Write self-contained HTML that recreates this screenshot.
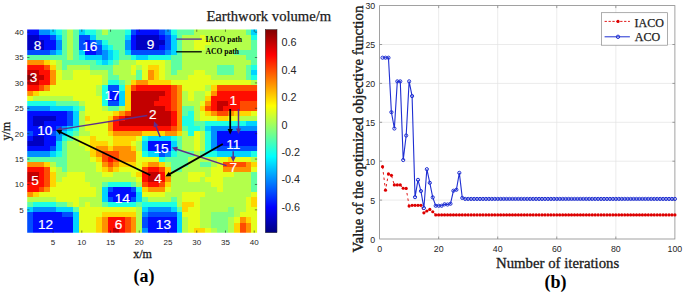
<!DOCTYPE html><html><head><meta charset="utf-8"><style>html,body{margin:0;padding:0;background:#fff;}svg{display:block}</style></head><body>
<svg width="685" height="293" viewBox="0 0 685 293">
<defs><linearGradient id="cb" x1="0" y1="1" x2="0" y2="0">
<stop offset="0.0000" stop-color="#000080"/>
<stop offset="0.0156" stop-color="#00008f"/>
<stop offset="0.0312" stop-color="#00009f"/>
<stop offset="0.0469" stop-color="#0000af"/>
<stop offset="0.0625" stop-color="#0000bf"/>
<stop offset="0.0781" stop-color="#0000cf"/>
<stop offset="0.0938" stop-color="#0000df"/>
<stop offset="0.1094" stop-color="#0000ef"/>
<stop offset="0.1250" stop-color="#0000ff"/>
<stop offset="0.1406" stop-color="#0010ff"/>
<stop offset="0.1562" stop-color="#0020ff"/>
<stop offset="0.1719" stop-color="#0030ff"/>
<stop offset="0.1875" stop-color="#0040ff"/>
<stop offset="0.2031" stop-color="#0050ff"/>
<stop offset="0.2188" stop-color="#0060ff"/>
<stop offset="0.2344" stop-color="#0070ff"/>
<stop offset="0.2500" stop-color="#0080ff"/>
<stop offset="0.2656" stop-color="#008fff"/>
<stop offset="0.2812" stop-color="#009fff"/>
<stop offset="0.2969" stop-color="#00afff"/>
<stop offset="0.3125" stop-color="#00bfff"/>
<stop offset="0.3281" stop-color="#00cfff"/>
<stop offset="0.3438" stop-color="#00dfff"/>
<stop offset="0.3594" stop-color="#00efff"/>
<stop offset="0.3750" stop-color="#00ffff"/>
<stop offset="0.3906" stop-color="#10ffef"/>
<stop offset="0.4062" stop-color="#20ffdf"/>
<stop offset="0.4219" stop-color="#30ffcf"/>
<stop offset="0.4375" stop-color="#40ffbf"/>
<stop offset="0.4531" stop-color="#50ffaf"/>
<stop offset="0.4688" stop-color="#60ff9f"/>
<stop offset="0.4844" stop-color="#70ff8f"/>
<stop offset="0.5000" stop-color="#80ff80"/>
<stop offset="0.5156" stop-color="#8fff70"/>
<stop offset="0.5312" stop-color="#9fff60"/>
<stop offset="0.5469" stop-color="#afff50"/>
<stop offset="0.5625" stop-color="#bfff40"/>
<stop offset="0.5781" stop-color="#cfff30"/>
<stop offset="0.5938" stop-color="#dfff20"/>
<stop offset="0.6094" stop-color="#efff10"/>
<stop offset="0.6250" stop-color="#ffff00"/>
<stop offset="0.6406" stop-color="#ffef00"/>
<stop offset="0.6562" stop-color="#ffdf00"/>
<stop offset="0.6719" stop-color="#ffcf00"/>
<stop offset="0.6875" stop-color="#ffbf00"/>
<stop offset="0.7031" stop-color="#ffaf00"/>
<stop offset="0.7188" stop-color="#ff9f00"/>
<stop offset="0.7344" stop-color="#ff8f00"/>
<stop offset="0.7500" stop-color="#ff8000"/>
<stop offset="0.7656" stop-color="#ff7000"/>
<stop offset="0.7812" stop-color="#ff6000"/>
<stop offset="0.7969" stop-color="#ff5000"/>
<stop offset="0.8125" stop-color="#ff4000"/>
<stop offset="0.8281" stop-color="#ff3000"/>
<stop offset="0.8438" stop-color="#ff2000"/>
<stop offset="0.8594" stop-color="#ff1000"/>
<stop offset="0.8750" stop-color="#ff0000"/>
<stop offset="0.8906" stop-color="#ef0000"/>
<stop offset="0.9062" stop-color="#df0000"/>
<stop offset="0.9219" stop-color="#cf0000"/>
<stop offset="0.9375" stop-color="#bf0000"/>
<stop offset="0.9531" stop-color="#af0000"/>
<stop offset="0.9688" stop-color="#9f0000"/>
<stop offset="0.9844" stop-color="#8f0000"/>
<stop offset="1.0000" stop-color="#800000"/>
</linearGradient></defs>
<clipPath id="hc"><rect x="27.20" y="29.60" width="229.90" height="203.10"/></clipPath>
<filter id="bl" x="-5%" y="-5%" width="110%" height="110%"><feGaussianBlur stdDeviation="0.65"/></filter>
<g clip-path="url(#hc)"><g filter="url(#bl)" shape-rendering="crispEdges">
<rect x="21.45" y="24.52" width="6.15" height="5.48" fill="#0008ff"/>
<rect x="27.20" y="24.52" width="6.15" height="5.48" fill="#0008ff"/>
<rect x="32.95" y="24.52" width="6.15" height="5.48" fill="#0008ff"/>
<rect x="38.70" y="24.52" width="6.15" height="5.48" fill="#0090ff"/>
<rect x="44.44" y="24.52" width="6.15" height="5.48" fill="#0090ff"/>
<rect x="50.19" y="24.52" width="6.15" height="5.48" fill="#00d4ff"/>
<rect x="55.94" y="24.52" width="6.15" height="5.48" fill="#1affe5"/>
<rect x="61.69" y="24.52" width="6.15" height="5.48" fill="#5effa2"/>
<rect x="67.43" y="24.52" width="6.15" height="5.48" fill="#b3ff4c"/>
<rect x="73.18" y="24.52" width="6.15" height="5.48" fill="#5effa2"/>
<rect x="78.93" y="24.52" width="6.15" height="5.48" fill="#00d4ff"/>
<rect x="84.68" y="24.52" width="6.15" height="5.48" fill="#1affe5"/>
<rect x="90.42" y="24.52" width="6.15" height="5.48" fill="#1affe5"/>
<rect x="96.17" y="24.52" width="6.15" height="5.48" fill="#5effa2"/>
<rect x="101.92" y="24.52" width="6.15" height="5.48" fill="#b3ff4c"/>
<rect x="107.67" y="24.52" width="6.15" height="5.48" fill="#5effa2"/>
<rect x="113.41" y="24.52" width="6.15" height="5.48" fill="#5effa2"/>
<rect x="119.16" y="24.52" width="6.15" height="5.48" fill="#5effa2"/>
<rect x="124.91" y="24.52" width="6.15" height="5.48" fill="#1affe5"/>
<rect x="130.66" y="24.52" width="6.15" height="5.48" fill="#004dff"/>
<rect x="136.40" y="24.52" width="6.15" height="5.48" fill="#0008ff"/>
<rect x="142.15" y="24.52" width="6.15" height="5.48" fill="#0008ff"/>
<rect x="147.90" y="24.52" width="6.15" height="5.48" fill="#0008ff"/>
<rect x="153.65" y="24.52" width="6.15" height="5.48" fill="#0008ff"/>
<rect x="159.39" y="24.52" width="6.15" height="5.48" fill="#004dff"/>
<rect x="165.14" y="24.52" width="6.15" height="5.48" fill="#0090ff"/>
<rect x="170.89" y="24.52" width="6.15" height="5.48" fill="#1affe5"/>
<rect x="176.63" y="24.52" width="6.15" height="5.48" fill="#5effa2"/>
<rect x="182.38" y="24.52" width="6.15" height="5.48" fill="#5effa2"/>
<rect x="188.13" y="24.52" width="6.15" height="5.48" fill="#5effa2"/>
<rect x="193.88" y="24.52" width="6.15" height="5.48" fill="#b3ff4c"/>
<rect x="199.62" y="24.52" width="6.15" height="5.48" fill="#b3ff4c"/>
<rect x="205.37" y="24.52" width="6.15" height="5.48" fill="#b3ff4c"/>
<rect x="211.12" y="24.52" width="6.15" height="5.48" fill="#b3ff4c"/>
<rect x="216.87" y="24.52" width="6.15" height="5.48" fill="#b3ff4c"/>
<rect x="222.62" y="24.52" width="6.15" height="5.48" fill="#b3ff4c"/>
<rect x="228.36" y="24.52" width="6.15" height="5.48" fill="#b3ff4c"/>
<rect x="234.11" y="24.52" width="6.15" height="5.48" fill="#b3ff4c"/>
<rect x="239.86" y="24.52" width="6.15" height="5.48" fill="#b3ff4c"/>
<rect x="245.61" y="24.52" width="6.15" height="5.48" fill="#5effa2"/>
<rect x="251.35" y="24.52" width="6.15" height="5.48" fill="#00d4ff"/>
<rect x="257.10" y="24.52" width="6.15" height="5.48" fill="#00d4ff"/>
<rect x="21.45" y="29.60" width="6.15" height="5.48" fill="#0008ff"/>
<rect x="27.20" y="29.60" width="6.15" height="5.48" fill="#0008ff"/>
<rect x="32.95" y="29.60" width="6.15" height="5.48" fill="#0008ff"/>
<rect x="38.70" y="29.60" width="6.15" height="5.48" fill="#0090ff"/>
<rect x="44.44" y="29.60" width="6.15" height="5.48" fill="#0090ff"/>
<rect x="50.19" y="29.60" width="6.15" height="5.48" fill="#00d4ff"/>
<rect x="55.94" y="29.60" width="6.15" height="5.48" fill="#1affe5"/>
<rect x="61.69" y="29.60" width="6.15" height="5.48" fill="#5effa2"/>
<rect x="67.43" y="29.60" width="6.15" height="5.48" fill="#b3ff4c"/>
<rect x="73.18" y="29.60" width="6.15" height="5.48" fill="#5effa2"/>
<rect x="78.93" y="29.60" width="6.15" height="5.48" fill="#00d4ff"/>
<rect x="84.68" y="29.60" width="6.15" height="5.48" fill="#1affe5"/>
<rect x="90.42" y="29.60" width="6.15" height="5.48" fill="#1affe5"/>
<rect x="96.17" y="29.60" width="6.15" height="5.48" fill="#5effa2"/>
<rect x="101.92" y="29.60" width="6.15" height="5.48" fill="#b3ff4c"/>
<rect x="107.67" y="29.60" width="6.15" height="5.48" fill="#5effa2"/>
<rect x="113.41" y="29.60" width="6.15" height="5.48" fill="#5effa2"/>
<rect x="119.16" y="29.60" width="6.15" height="5.48" fill="#5effa2"/>
<rect x="124.91" y="29.60" width="6.15" height="5.48" fill="#1affe5"/>
<rect x="130.66" y="29.60" width="6.15" height="5.48" fill="#004dff"/>
<rect x="136.40" y="29.60" width="6.15" height="5.48" fill="#0008ff"/>
<rect x="142.15" y="29.60" width="6.15" height="5.48" fill="#0008ff"/>
<rect x="147.90" y="29.60" width="6.15" height="5.48" fill="#0008ff"/>
<rect x="153.65" y="29.60" width="6.15" height="5.48" fill="#0008ff"/>
<rect x="159.39" y="29.60" width="6.15" height="5.48" fill="#004dff"/>
<rect x="165.14" y="29.60" width="6.15" height="5.48" fill="#0090ff"/>
<rect x="170.89" y="29.60" width="6.15" height="5.48" fill="#1affe5"/>
<rect x="176.63" y="29.60" width="6.15" height="5.48" fill="#5effa2"/>
<rect x="182.38" y="29.60" width="6.15" height="5.48" fill="#5effa2"/>
<rect x="188.13" y="29.60" width="6.15" height="5.48" fill="#5effa2"/>
<rect x="193.88" y="29.60" width="6.15" height="5.48" fill="#b3ff4c"/>
<rect x="199.62" y="29.60" width="6.15" height="5.48" fill="#b3ff4c"/>
<rect x="205.37" y="29.60" width="6.15" height="5.48" fill="#b3ff4c"/>
<rect x="211.12" y="29.60" width="6.15" height="5.48" fill="#b3ff4c"/>
<rect x="216.87" y="29.60" width="6.15" height="5.48" fill="#b3ff4c"/>
<rect x="222.62" y="29.60" width="6.15" height="5.48" fill="#b3ff4c"/>
<rect x="228.36" y="29.60" width="6.15" height="5.48" fill="#b3ff4c"/>
<rect x="234.11" y="29.60" width="6.15" height="5.48" fill="#b3ff4c"/>
<rect x="239.86" y="29.60" width="6.15" height="5.48" fill="#b3ff4c"/>
<rect x="245.61" y="29.60" width="6.15" height="5.48" fill="#5effa2"/>
<rect x="251.35" y="29.60" width="6.15" height="5.48" fill="#00d4ff"/>
<rect x="257.10" y="29.60" width="6.15" height="5.48" fill="#00d4ff"/>
<rect x="21.45" y="34.68" width="6.15" height="5.48" fill="#0000c3"/>
<rect x="27.20" y="34.68" width="6.15" height="5.48" fill="#0000c3"/>
<rect x="32.95" y="34.68" width="6.15" height="5.48" fill="#0000c3"/>
<rect x="38.70" y="34.68" width="6.15" height="5.48" fill="#0008ff"/>
<rect x="44.44" y="34.68" width="6.15" height="5.48" fill="#0008ff"/>
<rect x="50.19" y="34.68" width="6.15" height="5.48" fill="#004dff"/>
<rect x="55.94" y="34.68" width="6.15" height="5.48" fill="#00d4ff"/>
<rect x="61.69" y="34.68" width="6.15" height="5.48" fill="#5effa2"/>
<rect x="67.43" y="34.68" width="6.15" height="5.48" fill="#b3ff4c"/>
<rect x="73.18" y="34.68" width="6.15" height="5.48" fill="#5effa2"/>
<rect x="78.93" y="34.68" width="6.15" height="5.48" fill="#004dff"/>
<rect x="84.68" y="34.68" width="6.15" height="5.48" fill="#004dff"/>
<rect x="90.42" y="34.68" width="6.15" height="5.48" fill="#00d4ff"/>
<rect x="96.17" y="34.68" width="6.15" height="5.48" fill="#5effa2"/>
<rect x="101.92" y="34.68" width="6.15" height="5.48" fill="#5effa2"/>
<rect x="107.67" y="34.68" width="6.15" height="5.48" fill="#5effa2"/>
<rect x="113.41" y="34.68" width="6.15" height="5.48" fill="#5effa2"/>
<rect x="119.16" y="34.68" width="6.15" height="5.48" fill="#5effa2"/>
<rect x="124.91" y="34.68" width="6.15" height="5.48" fill="#00d4ff"/>
<rect x="130.66" y="34.68" width="6.15" height="5.48" fill="#0008ff"/>
<rect x="136.40" y="34.68" width="6.15" height="5.48" fill="#0000c3"/>
<rect x="142.15" y="34.68" width="6.15" height="5.48" fill="#0000c3"/>
<rect x="147.90" y="34.68" width="6.15" height="5.48" fill="#0000c3"/>
<rect x="153.65" y="34.68" width="6.15" height="5.48" fill="#0000c3"/>
<rect x="159.39" y="34.68" width="6.15" height="5.48" fill="#0008ff"/>
<rect x="165.14" y="34.68" width="6.15" height="5.48" fill="#004dff"/>
<rect x="170.89" y="34.68" width="6.15" height="5.48" fill="#00d4ff"/>
<rect x="176.63" y="34.68" width="6.15" height="5.48" fill="#5effa2"/>
<rect x="182.38" y="34.68" width="6.15" height="5.48" fill="#b3ff4c"/>
<rect x="188.13" y="34.68" width="6.15" height="5.48" fill="#b3ff4c"/>
<rect x="193.88" y="34.68" width="6.15" height="5.48" fill="#b3ff4c"/>
<rect x="199.62" y="34.68" width="6.15" height="5.48" fill="#e5ff1a"/>
<rect x="205.37" y="34.68" width="6.15" height="5.48" fill="#b3ff4c"/>
<rect x="211.12" y="34.68" width="6.15" height="5.48" fill="#b3ff4c"/>
<rect x="216.87" y="34.68" width="6.15" height="5.48" fill="#b3ff4c"/>
<rect x="222.62" y="34.68" width="6.15" height="5.48" fill="#b3ff4c"/>
<rect x="228.36" y="34.68" width="6.15" height="5.48" fill="#b3ff4c"/>
<rect x="234.11" y="34.68" width="6.15" height="5.48" fill="#b3ff4c"/>
<rect x="239.86" y="34.68" width="6.15" height="5.48" fill="#b3ff4c"/>
<rect x="245.61" y="34.68" width="6.15" height="5.48" fill="#b3ff4c"/>
<rect x="251.35" y="34.68" width="6.15" height="5.48" fill="#1affe5"/>
<rect x="257.10" y="34.68" width="6.15" height="5.48" fill="#1affe5"/>
<rect x="21.45" y="39.76" width="6.15" height="5.48" fill="#0000c3"/>
<rect x="27.20" y="39.76" width="6.15" height="5.48" fill="#0000c3"/>
<rect x="32.95" y="39.76" width="6.15" height="5.48" fill="#0000c3"/>
<rect x="38.70" y="39.76" width="6.15" height="5.48" fill="#0000c3"/>
<rect x="44.44" y="39.76" width="6.15" height="5.48" fill="#0008ff"/>
<rect x="50.19" y="39.76" width="6.15" height="5.48" fill="#0008ff"/>
<rect x="55.94" y="39.76" width="6.15" height="5.48" fill="#0090ff"/>
<rect x="61.69" y="39.76" width="6.15" height="5.48" fill="#5effa2"/>
<rect x="67.43" y="39.76" width="6.15" height="5.48" fill="#b3ff4c"/>
<rect x="73.18" y="39.76" width="6.15" height="5.48" fill="#5effa2"/>
<rect x="78.93" y="39.76" width="6.15" height="5.48" fill="#004dff"/>
<rect x="84.68" y="39.76" width="6.15" height="5.48" fill="#0008ff"/>
<rect x="90.42" y="39.76" width="6.15" height="5.48" fill="#004dff"/>
<rect x="96.17" y="39.76" width="6.15" height="5.48" fill="#0090ff"/>
<rect x="101.92" y="39.76" width="6.15" height="5.48" fill="#1affe5"/>
<rect x="107.67" y="39.76" width="6.15" height="5.48" fill="#5effa2"/>
<rect x="113.41" y="39.76" width="6.15" height="5.48" fill="#5effa2"/>
<rect x="119.16" y="39.76" width="6.15" height="5.48" fill="#5effa2"/>
<rect x="124.91" y="39.76" width="6.15" height="5.48" fill="#0090ff"/>
<rect x="130.66" y="39.76" width="6.15" height="5.48" fill="#0008ff"/>
<rect x="136.40" y="39.76" width="6.15" height="5.48" fill="#0000c3"/>
<rect x="142.15" y="39.76" width="6.15" height="5.48" fill="#0000c3"/>
<rect x="147.90" y="39.76" width="6.15" height="5.48" fill="#0000c3"/>
<rect x="153.65" y="39.76" width="6.15" height="5.48" fill="#0000c3"/>
<rect x="159.39" y="39.76" width="6.15" height="5.48" fill="#0000c3"/>
<rect x="165.14" y="39.76" width="6.15" height="5.48" fill="#004dff"/>
<rect x="170.89" y="39.76" width="6.15" height="5.48" fill="#00d4ff"/>
<rect x="176.63" y="39.76" width="6.15" height="5.48" fill="#5effa2"/>
<rect x="182.38" y="39.76" width="6.15" height="5.48" fill="#b3ff4c"/>
<rect x="188.13" y="39.76" width="6.15" height="5.48" fill="#b3ff4c"/>
<rect x="193.88" y="39.76" width="6.15" height="5.48" fill="#e5ff1a"/>
<rect x="199.62" y="39.76" width="6.15" height="5.48" fill="#e5ff1a"/>
<rect x="205.37" y="39.76" width="6.15" height="5.48" fill="#e5ff1a"/>
<rect x="211.12" y="39.76" width="6.15" height="5.48" fill="#b3ff4c"/>
<rect x="216.87" y="39.76" width="6.15" height="5.48" fill="#b3ff4c"/>
<rect x="222.62" y="39.76" width="6.15" height="5.48" fill="#b3ff4c"/>
<rect x="228.36" y="39.76" width="6.15" height="5.48" fill="#b3ff4c"/>
<rect x="234.11" y="39.76" width="6.15" height="5.48" fill="#b3ff4c"/>
<rect x="239.86" y="39.76" width="6.15" height="5.48" fill="#b3ff4c"/>
<rect x="245.61" y="39.76" width="6.15" height="5.48" fill="#b3ff4c"/>
<rect x="251.35" y="39.76" width="6.15" height="5.48" fill="#5effa2"/>
<rect x="257.10" y="39.76" width="6.15" height="5.48" fill="#5effa2"/>
<rect x="21.45" y="44.83" width="6.15" height="5.48" fill="#0000c3"/>
<rect x="27.20" y="44.83" width="6.15" height="5.48" fill="#0000c3"/>
<rect x="32.95" y="44.83" width="6.15" height="5.48" fill="#0000c3"/>
<rect x="38.70" y="44.83" width="6.15" height="5.48" fill="#0000c3"/>
<rect x="44.44" y="44.83" width="6.15" height="5.48" fill="#0008ff"/>
<rect x="50.19" y="44.83" width="6.15" height="5.48" fill="#0008ff"/>
<rect x="55.94" y="44.83" width="6.15" height="5.48" fill="#0090ff"/>
<rect x="61.69" y="44.83" width="6.15" height="5.48" fill="#5effa2"/>
<rect x="67.43" y="44.83" width="6.15" height="5.48" fill="#b3ff4c"/>
<rect x="73.18" y="44.83" width="6.15" height="5.48" fill="#5effa2"/>
<rect x="78.93" y="44.83" width="6.15" height="5.48" fill="#004dff"/>
<rect x="84.68" y="44.83" width="6.15" height="5.48" fill="#0008ff"/>
<rect x="90.42" y="44.83" width="6.15" height="5.48" fill="#0008ff"/>
<rect x="96.17" y="44.83" width="6.15" height="5.48" fill="#004dff"/>
<rect x="101.92" y="44.83" width="6.15" height="5.48" fill="#00d4ff"/>
<rect x="107.67" y="44.83" width="6.15" height="5.48" fill="#1affe5"/>
<rect x="113.41" y="44.83" width="6.15" height="5.48" fill="#5effa2"/>
<rect x="119.16" y="44.83" width="6.15" height="5.48" fill="#5effa2"/>
<rect x="124.91" y="44.83" width="6.15" height="5.48" fill="#0090ff"/>
<rect x="130.66" y="44.83" width="6.15" height="5.48" fill="#0008ff"/>
<rect x="136.40" y="44.83" width="6.15" height="5.48" fill="#0000c3"/>
<rect x="142.15" y="44.83" width="6.15" height="5.48" fill="#0000c3"/>
<rect x="147.90" y="44.83" width="6.15" height="5.48" fill="#0000c3"/>
<rect x="153.65" y="44.83" width="6.15" height="5.48" fill="#0000c3"/>
<rect x="159.39" y="44.83" width="6.15" height="5.48" fill="#0008ff"/>
<rect x="165.14" y="44.83" width="6.15" height="5.48" fill="#004dff"/>
<rect x="170.89" y="44.83" width="6.15" height="5.48" fill="#00d4ff"/>
<rect x="176.63" y="44.83" width="6.15" height="5.48" fill="#5effa2"/>
<rect x="182.38" y="44.83" width="6.15" height="5.48" fill="#b3ff4c"/>
<rect x="188.13" y="44.83" width="6.15" height="5.48" fill="#b3ff4c"/>
<rect x="193.88" y="44.83" width="6.15" height="5.48" fill="#e5ff1a"/>
<rect x="199.62" y="44.83" width="6.15" height="5.48" fill="#e5ff1a"/>
<rect x="205.37" y="44.83" width="6.15" height="5.48" fill="#b3ff4c"/>
<rect x="211.12" y="44.83" width="6.15" height="5.48" fill="#b3ff4c"/>
<rect x="216.87" y="44.83" width="6.15" height="5.48" fill="#b3ff4c"/>
<rect x="222.62" y="44.83" width="6.15" height="5.48" fill="#b3ff4c"/>
<rect x="228.36" y="44.83" width="6.15" height="5.48" fill="#b3ff4c"/>
<rect x="234.11" y="44.83" width="6.15" height="5.48" fill="#b3ff4c"/>
<rect x="239.86" y="44.83" width="6.15" height="5.48" fill="#b3ff4c"/>
<rect x="245.61" y="44.83" width="6.15" height="5.48" fill="#b3ff4c"/>
<rect x="251.35" y="44.83" width="6.15" height="5.48" fill="#5effa2"/>
<rect x="257.10" y="44.83" width="6.15" height="5.48" fill="#5effa2"/>
<rect x="21.45" y="49.91" width="6.15" height="5.48" fill="#004dff"/>
<rect x="27.20" y="49.91" width="6.15" height="5.48" fill="#004dff"/>
<rect x="32.95" y="49.91" width="6.15" height="5.48" fill="#004dff"/>
<rect x="38.70" y="49.91" width="6.15" height="5.48" fill="#004dff"/>
<rect x="44.44" y="49.91" width="6.15" height="5.48" fill="#004dff"/>
<rect x="50.19" y="49.91" width="6.15" height="5.48" fill="#0090ff"/>
<rect x="55.94" y="49.91" width="6.15" height="5.48" fill="#00d4ff"/>
<rect x="61.69" y="49.91" width="6.15" height="5.48" fill="#5effa2"/>
<rect x="67.43" y="49.91" width="6.15" height="5.48" fill="#b3ff4c"/>
<rect x="73.18" y="49.91" width="6.15" height="5.48" fill="#5effa2"/>
<rect x="78.93" y="49.91" width="6.15" height="5.48" fill="#00d4ff"/>
<rect x="84.68" y="49.91" width="6.15" height="5.48" fill="#0008ff"/>
<rect x="90.42" y="49.91" width="6.15" height="5.48" fill="#0008ff"/>
<rect x="96.17" y="49.91" width="6.15" height="5.48" fill="#004dff"/>
<rect x="101.92" y="49.91" width="6.15" height="5.48" fill="#0090ff"/>
<rect x="107.67" y="49.91" width="6.15" height="5.48" fill="#00d4ff"/>
<rect x="113.41" y="49.91" width="6.15" height="5.48" fill="#1affe5"/>
<rect x="119.16" y="49.91" width="6.15" height="5.48" fill="#5effa2"/>
<rect x="124.91" y="49.91" width="6.15" height="5.48" fill="#00d4ff"/>
<rect x="130.66" y="49.91" width="6.15" height="5.48" fill="#004dff"/>
<rect x="136.40" y="49.91" width="6.15" height="5.48" fill="#004dff"/>
<rect x="142.15" y="49.91" width="6.15" height="5.48" fill="#004dff"/>
<rect x="147.90" y="49.91" width="6.15" height="5.48" fill="#004dff"/>
<rect x="153.65" y="49.91" width="6.15" height="5.48" fill="#004dff"/>
<rect x="159.39" y="49.91" width="6.15" height="5.48" fill="#004dff"/>
<rect x="165.14" y="49.91" width="6.15" height="5.48" fill="#0090ff"/>
<rect x="170.89" y="49.91" width="6.15" height="5.48" fill="#00d4ff"/>
<rect x="176.63" y="49.91" width="6.15" height="5.48" fill="#5effa2"/>
<rect x="182.38" y="49.91" width="6.15" height="5.48" fill="#b3ff4c"/>
<rect x="188.13" y="49.91" width="6.15" height="5.48" fill="#b3ff4c"/>
<rect x="193.88" y="49.91" width="6.15" height="5.48" fill="#b3ff4c"/>
<rect x="199.62" y="49.91" width="6.15" height="5.48" fill="#b3ff4c"/>
<rect x="205.37" y="49.91" width="6.15" height="5.48" fill="#b3ff4c"/>
<rect x="211.12" y="49.91" width="6.15" height="5.48" fill="#b3ff4c"/>
<rect x="216.87" y="49.91" width="6.15" height="5.48" fill="#b3ff4c"/>
<rect x="222.62" y="49.91" width="6.15" height="5.48" fill="#b3ff4c"/>
<rect x="228.36" y="49.91" width="6.15" height="5.48" fill="#b3ff4c"/>
<rect x="234.11" y="49.91" width="6.15" height="5.48" fill="#5effa2"/>
<rect x="239.86" y="49.91" width="6.15" height="5.48" fill="#5effa2"/>
<rect x="245.61" y="49.91" width="6.15" height="5.48" fill="#5effa2"/>
<rect x="251.35" y="49.91" width="6.15" height="5.48" fill="#5effa2"/>
<rect x="257.10" y="49.91" width="6.15" height="5.48" fill="#5effa2"/>
<rect x="21.45" y="54.99" width="6.15" height="5.48" fill="#5effa2"/>
<rect x="27.20" y="54.99" width="6.15" height="5.48" fill="#5effa2"/>
<rect x="32.95" y="54.99" width="6.15" height="5.48" fill="#5effa2"/>
<rect x="38.70" y="54.99" width="6.15" height="5.48" fill="#5effa2"/>
<rect x="44.44" y="54.99" width="6.15" height="5.48" fill="#5effa2"/>
<rect x="50.19" y="54.99" width="6.15" height="5.48" fill="#5effa2"/>
<rect x="55.94" y="54.99" width="6.15" height="5.48" fill="#5effa2"/>
<rect x="61.69" y="54.99" width="6.15" height="5.48" fill="#5effa2"/>
<rect x="67.43" y="54.99" width="6.15" height="5.48" fill="#b3ff4c"/>
<rect x="73.18" y="54.99" width="6.15" height="5.48" fill="#5effa2"/>
<rect x="78.93" y="54.99" width="6.15" height="5.48" fill="#1affe5"/>
<rect x="84.68" y="54.99" width="6.15" height="5.48" fill="#00d4ff"/>
<rect x="90.42" y="54.99" width="6.15" height="5.48" fill="#00d4ff"/>
<rect x="96.17" y="54.99" width="6.15" height="5.48" fill="#00d4ff"/>
<rect x="101.92" y="54.99" width="6.15" height="5.48" fill="#0090ff"/>
<rect x="107.67" y="54.99" width="6.15" height="5.48" fill="#00d4ff"/>
<rect x="113.41" y="54.99" width="6.15" height="5.48" fill="#1affe5"/>
<rect x="119.16" y="54.99" width="6.15" height="5.48" fill="#5effa2"/>
<rect x="124.91" y="54.99" width="6.15" height="5.48" fill="#5effa2"/>
<rect x="130.66" y="54.99" width="6.15" height="5.48" fill="#1affe5"/>
<rect x="136.40" y="54.99" width="6.15" height="5.48" fill="#00d4ff"/>
<rect x="142.15" y="54.99" width="6.15" height="5.48" fill="#00d4ff"/>
<rect x="147.90" y="54.99" width="6.15" height="5.48" fill="#1affe5"/>
<rect x="153.65" y="54.99" width="6.15" height="5.48" fill="#1affe5"/>
<rect x="159.39" y="54.99" width="6.15" height="5.48" fill="#1affe5"/>
<rect x="165.14" y="54.99" width="6.15" height="5.48" fill="#1affe5"/>
<rect x="170.89" y="54.99" width="6.15" height="5.48" fill="#5effa2"/>
<rect x="176.63" y="54.99" width="6.15" height="5.48" fill="#5effa2"/>
<rect x="182.38" y="54.99" width="6.15" height="5.48" fill="#b3ff4c"/>
<rect x="188.13" y="54.99" width="6.15" height="5.48" fill="#b3ff4c"/>
<rect x="193.88" y="54.99" width="6.15" height="5.48" fill="#b3ff4c"/>
<rect x="199.62" y="54.99" width="6.15" height="5.48" fill="#b3ff4c"/>
<rect x="205.37" y="54.99" width="6.15" height="5.48" fill="#b3ff4c"/>
<rect x="211.12" y="54.99" width="6.15" height="5.48" fill="#b3ff4c"/>
<rect x="216.87" y="54.99" width="6.15" height="5.48" fill="#b3ff4c"/>
<rect x="222.62" y="54.99" width="6.15" height="5.48" fill="#b3ff4c"/>
<rect x="228.36" y="54.99" width="6.15" height="5.48" fill="#b3ff4c"/>
<rect x="234.11" y="54.99" width="6.15" height="5.48" fill="#b3ff4c"/>
<rect x="239.86" y="54.99" width="6.15" height="5.48" fill="#b3ff4c"/>
<rect x="245.61" y="54.99" width="6.15" height="5.48" fill="#5effa2"/>
<rect x="251.35" y="54.99" width="6.15" height="5.48" fill="#5effa2"/>
<rect x="257.10" y="54.99" width="6.15" height="5.48" fill="#5effa2"/>
<rect x="21.45" y="60.06" width="6.15" height="5.48" fill="#ff9100"/>
<rect x="27.20" y="60.06" width="6.15" height="5.48" fill="#ff9100"/>
<rect x="32.95" y="60.06" width="6.15" height="5.48" fill="#ff9100"/>
<rect x="38.70" y="60.06" width="6.15" height="5.48" fill="#ff9100"/>
<rect x="44.44" y="60.06" width="6.15" height="5.48" fill="#ffd500"/>
<rect x="50.19" y="60.06" width="6.15" height="5.48" fill="#e5ff1a"/>
<rect x="55.94" y="60.06" width="6.15" height="5.48" fill="#b3ff4c"/>
<rect x="61.69" y="60.06" width="6.15" height="5.48" fill="#5effa2"/>
<rect x="67.43" y="60.06" width="6.15" height="5.48" fill="#5effa2"/>
<rect x="73.18" y="60.06" width="6.15" height="5.48" fill="#5effa2"/>
<rect x="78.93" y="60.06" width="6.15" height="5.48" fill="#5effa2"/>
<rect x="84.68" y="60.06" width="6.15" height="5.48" fill="#5effa2"/>
<rect x="90.42" y="60.06" width="6.15" height="5.48" fill="#5effa2"/>
<rect x="96.17" y="60.06" width="6.15" height="5.48" fill="#1affe5"/>
<rect x="101.92" y="60.06" width="6.15" height="5.48" fill="#00d4ff"/>
<rect x="107.67" y="60.06" width="6.15" height="5.48" fill="#1affe5"/>
<rect x="113.41" y="60.06" width="6.15" height="5.48" fill="#5effa2"/>
<rect x="119.16" y="60.06" width="6.15" height="5.48" fill="#b3ff4c"/>
<rect x="124.91" y="60.06" width="6.15" height="5.48" fill="#b3ff4c"/>
<rect x="130.66" y="60.06" width="6.15" height="5.48" fill="#b3ff4c"/>
<rect x="136.40" y="60.06" width="6.15" height="5.48" fill="#e5ff1a"/>
<rect x="142.15" y="60.06" width="6.15" height="5.48" fill="#e5ff1a"/>
<rect x="147.90" y="60.06" width="6.15" height="5.48" fill="#e5ff1a"/>
<rect x="153.65" y="60.06" width="6.15" height="5.48" fill="#e5ff1a"/>
<rect x="159.39" y="60.06" width="6.15" height="5.48" fill="#e5ff1a"/>
<rect x="165.14" y="60.06" width="6.15" height="5.48" fill="#b3ff4c"/>
<rect x="170.89" y="60.06" width="6.15" height="5.48" fill="#5effa2"/>
<rect x="176.63" y="60.06" width="6.15" height="5.48" fill="#5effa2"/>
<rect x="182.38" y="60.06" width="6.15" height="5.48" fill="#b3ff4c"/>
<rect x="188.13" y="60.06" width="6.15" height="5.48" fill="#b3ff4c"/>
<rect x="193.88" y="60.06" width="6.15" height="5.48" fill="#b3ff4c"/>
<rect x="199.62" y="60.06" width="6.15" height="5.48" fill="#b3ff4c"/>
<rect x="205.37" y="60.06" width="6.15" height="5.48" fill="#b3ff4c"/>
<rect x="211.12" y="60.06" width="6.15" height="5.48" fill="#b3ff4c"/>
<rect x="216.87" y="60.06" width="6.15" height="5.48" fill="#b3ff4c"/>
<rect x="222.62" y="60.06" width="6.15" height="5.48" fill="#b3ff4c"/>
<rect x="228.36" y="60.06" width="6.15" height="5.48" fill="#b3ff4c"/>
<rect x="234.11" y="60.06" width="6.15" height="5.48" fill="#b3ff4c"/>
<rect x="239.86" y="60.06" width="6.15" height="5.48" fill="#b3ff4c"/>
<rect x="245.61" y="60.06" width="6.15" height="5.48" fill="#b3ff4c"/>
<rect x="251.35" y="60.06" width="6.15" height="5.48" fill="#5effa2"/>
<rect x="257.10" y="60.06" width="6.15" height="5.48" fill="#5effa2"/>
<rect x="21.45" y="65.14" width="6.15" height="5.48" fill="#ff0800"/>
<rect x="27.20" y="65.14" width="6.15" height="5.48" fill="#ff0800"/>
<rect x="32.95" y="65.14" width="6.15" height="5.48" fill="#ff0800"/>
<rect x="38.70" y="65.14" width="6.15" height="5.48" fill="#ff0800"/>
<rect x="44.44" y="65.14" width="6.15" height="5.48" fill="#ff4c00"/>
<rect x="50.19" y="65.14" width="6.15" height="5.48" fill="#ffd500"/>
<rect x="55.94" y="65.14" width="6.15" height="5.48" fill="#b3ff4c"/>
<rect x="61.69" y="65.14" width="6.15" height="5.48" fill="#5effa2"/>
<rect x="67.43" y="65.14" width="6.15" height="5.48" fill="#b3ff4c"/>
<rect x="73.18" y="65.14" width="6.15" height="5.48" fill="#b3ff4c"/>
<rect x="78.93" y="65.14" width="6.15" height="5.48" fill="#b3ff4c"/>
<rect x="84.68" y="65.14" width="6.15" height="5.48" fill="#b3ff4c"/>
<rect x="90.42" y="65.14" width="6.15" height="5.48" fill="#5effa2"/>
<rect x="96.17" y="65.14" width="6.15" height="5.48" fill="#5effa2"/>
<rect x="101.92" y="65.14" width="6.15" height="5.48" fill="#5effa2"/>
<rect x="107.67" y="65.14" width="6.15" height="5.48" fill="#5effa2"/>
<rect x="113.41" y="65.14" width="6.15" height="5.48" fill="#b3ff4c"/>
<rect x="119.16" y="65.14" width="6.15" height="5.48" fill="#b3ff4c"/>
<rect x="124.91" y="65.14" width="6.15" height="5.48" fill="#b3ff4c"/>
<rect x="130.66" y="65.14" width="6.15" height="5.48" fill="#e5ff1a"/>
<rect x="136.40" y="65.14" width="6.15" height="5.48" fill="#b3ff4c"/>
<rect x="142.15" y="65.14" width="6.15" height="5.48" fill="#e5ff1a"/>
<rect x="147.90" y="65.14" width="6.15" height="5.48" fill="#ffd500"/>
<rect x="153.65" y="65.14" width="6.15" height="5.48" fill="#ffd500"/>
<rect x="159.39" y="65.14" width="6.15" height="5.48" fill="#e5ff1a"/>
<rect x="165.14" y="65.14" width="6.15" height="5.48" fill="#b3ff4c"/>
<rect x="170.89" y="65.14" width="6.15" height="5.48" fill="#5effa2"/>
<rect x="176.63" y="65.14" width="6.15" height="5.48" fill="#5effa2"/>
<rect x="182.38" y="65.14" width="6.15" height="5.48" fill="#b3ff4c"/>
<rect x="188.13" y="65.14" width="6.15" height="5.48" fill="#b3ff4c"/>
<rect x="193.88" y="65.14" width="6.15" height="5.48" fill="#b3ff4c"/>
<rect x="199.62" y="65.14" width="6.15" height="5.48" fill="#b3ff4c"/>
<rect x="205.37" y="65.14" width="6.15" height="5.48" fill="#b3ff4c"/>
<rect x="211.12" y="65.14" width="6.15" height="5.48" fill="#b3ff4c"/>
<rect x="216.87" y="65.14" width="6.15" height="5.48" fill="#5effa2"/>
<rect x="222.62" y="65.14" width="6.15" height="5.48" fill="#5effa2"/>
<rect x="228.36" y="65.14" width="6.15" height="5.48" fill="#5effa2"/>
<rect x="234.11" y="65.14" width="6.15" height="5.48" fill="#b3ff4c"/>
<rect x="239.86" y="65.14" width="6.15" height="5.48" fill="#b3ff4c"/>
<rect x="245.61" y="65.14" width="6.15" height="5.48" fill="#5effa2"/>
<rect x="251.35" y="65.14" width="6.15" height="5.48" fill="#1affe5"/>
<rect x="257.10" y="65.14" width="6.15" height="5.48" fill="#1affe5"/>
<rect x="21.45" y="70.22" width="6.15" height="5.48" fill="#c30000"/>
<rect x="27.20" y="70.22" width="6.15" height="5.48" fill="#c30000"/>
<rect x="32.95" y="70.22" width="6.15" height="5.48" fill="#c30000"/>
<rect x="38.70" y="70.22" width="6.15" height="5.48" fill="#ff0800"/>
<rect x="44.44" y="70.22" width="6.15" height="5.48" fill="#ff0800"/>
<rect x="50.19" y="70.22" width="6.15" height="5.48" fill="#ff9100"/>
<rect x="55.94" y="70.22" width="6.15" height="5.48" fill="#e5ff1a"/>
<rect x="61.69" y="70.22" width="6.15" height="5.48" fill="#b3ff4c"/>
<rect x="67.43" y="70.22" width="6.15" height="5.48" fill="#b3ff4c"/>
<rect x="73.18" y="70.22" width="6.15" height="5.48" fill="#e5ff1a"/>
<rect x="78.93" y="70.22" width="6.15" height="5.48" fill="#e5ff1a"/>
<rect x="84.68" y="70.22" width="6.15" height="5.48" fill="#e5ff1a"/>
<rect x="90.42" y="70.22" width="6.15" height="5.48" fill="#b3ff4c"/>
<rect x="96.17" y="70.22" width="6.15" height="5.48" fill="#b3ff4c"/>
<rect x="101.92" y="70.22" width="6.15" height="5.48" fill="#b3ff4c"/>
<rect x="107.67" y="70.22" width="6.15" height="5.48" fill="#5effa2"/>
<rect x="113.41" y="70.22" width="6.15" height="5.48" fill="#b3ff4c"/>
<rect x="119.16" y="70.22" width="6.15" height="5.48" fill="#b3ff4c"/>
<rect x="124.91" y="70.22" width="6.15" height="5.48" fill="#b3ff4c"/>
<rect x="130.66" y="70.22" width="6.15" height="5.48" fill="#e5ff1a"/>
<rect x="136.40" y="70.22" width="6.15" height="5.48" fill="#5effa2"/>
<rect x="142.15" y="70.22" width="6.15" height="5.48" fill="#e5ff1a"/>
<rect x="147.90" y="70.22" width="6.15" height="5.48" fill="#ff9100"/>
<rect x="153.65" y="70.22" width="6.15" height="5.48" fill="#ffd500"/>
<rect x="159.39" y="70.22" width="6.15" height="5.48" fill="#e5ff1a"/>
<rect x="165.14" y="70.22" width="6.15" height="5.48" fill="#b3ff4c"/>
<rect x="170.89" y="70.22" width="6.15" height="5.48" fill="#5effa2"/>
<rect x="176.63" y="70.22" width="6.15" height="5.48" fill="#b3ff4c"/>
<rect x="182.38" y="70.22" width="6.15" height="5.48" fill="#b3ff4c"/>
<rect x="188.13" y="70.22" width="6.15" height="5.48" fill="#b3ff4c"/>
<rect x="193.88" y="70.22" width="6.15" height="5.48" fill="#e5ff1a"/>
<rect x="199.62" y="70.22" width="6.15" height="5.48" fill="#e5ff1a"/>
<rect x="205.37" y="70.22" width="6.15" height="5.48" fill="#b3ff4c"/>
<rect x="211.12" y="70.22" width="6.15" height="5.48" fill="#b3ff4c"/>
<rect x="216.87" y="70.22" width="6.15" height="5.48" fill="#5effa2"/>
<rect x="222.62" y="70.22" width="6.15" height="5.48" fill="#5effa2"/>
<rect x="228.36" y="70.22" width="6.15" height="5.48" fill="#5effa2"/>
<rect x="234.11" y="70.22" width="6.15" height="5.48" fill="#b3ff4c"/>
<rect x="239.86" y="70.22" width="6.15" height="5.48" fill="#b3ff4c"/>
<rect x="245.61" y="70.22" width="6.15" height="5.48" fill="#5effa2"/>
<rect x="251.35" y="70.22" width="6.15" height="5.48" fill="#00d4ff"/>
<rect x="257.10" y="70.22" width="6.15" height="5.48" fill="#00d4ff"/>
<rect x="21.45" y="75.30" width="6.15" height="5.48" fill="#800000"/>
<rect x="27.20" y="75.30" width="6.15" height="5.48" fill="#800000"/>
<rect x="32.95" y="75.30" width="6.15" height="5.48" fill="#c30000"/>
<rect x="38.70" y="75.30" width="6.15" height="5.48" fill="#c30000"/>
<rect x="44.44" y="75.30" width="6.15" height="5.48" fill="#ff0800"/>
<rect x="50.19" y="75.30" width="6.15" height="5.48" fill="#ff9100"/>
<rect x="55.94" y="75.30" width="6.15" height="5.48" fill="#e5ff1a"/>
<rect x="61.69" y="75.30" width="6.15" height="5.48" fill="#b3ff4c"/>
<rect x="67.43" y="75.30" width="6.15" height="5.48" fill="#b3ff4c"/>
<rect x="73.18" y="75.30" width="6.15" height="5.48" fill="#e5ff1a"/>
<rect x="78.93" y="75.30" width="6.15" height="5.48" fill="#e5ff1a"/>
<rect x="84.68" y="75.30" width="6.15" height="5.48" fill="#e5ff1a"/>
<rect x="90.42" y="75.30" width="6.15" height="5.48" fill="#e5ff1a"/>
<rect x="96.17" y="75.30" width="6.15" height="5.48" fill="#e5ff1a"/>
<rect x="101.92" y="75.30" width="6.15" height="5.48" fill="#b3ff4c"/>
<rect x="107.67" y="75.30" width="6.15" height="5.48" fill="#5effa2"/>
<rect x="113.41" y="75.30" width="6.15" height="5.48" fill="#5effa2"/>
<rect x="119.16" y="75.30" width="6.15" height="5.48" fill="#b3ff4c"/>
<rect x="124.91" y="75.30" width="6.15" height="5.48" fill="#b3ff4c"/>
<rect x="130.66" y="75.30" width="6.15" height="5.48" fill="#b3ff4c"/>
<rect x="136.40" y="75.30" width="6.15" height="5.48" fill="#5effa2"/>
<rect x="142.15" y="75.30" width="6.15" height="5.48" fill="#e5ff1a"/>
<rect x="147.90" y="75.30" width="6.15" height="5.48" fill="#ff9100"/>
<rect x="153.65" y="75.30" width="6.15" height="5.48" fill="#ffd500"/>
<rect x="159.39" y="75.30" width="6.15" height="5.48" fill="#e5ff1a"/>
<rect x="165.14" y="75.30" width="6.15" height="5.48" fill="#b3ff4c"/>
<rect x="170.89" y="75.30" width="6.15" height="5.48" fill="#b3ff4c"/>
<rect x="176.63" y="75.30" width="6.15" height="5.48" fill="#b3ff4c"/>
<rect x="182.38" y="75.30" width="6.15" height="5.48" fill="#b3ff4c"/>
<rect x="188.13" y="75.30" width="6.15" height="5.48" fill="#e5ff1a"/>
<rect x="193.88" y="75.30" width="6.15" height="5.48" fill="#e5ff1a"/>
<rect x="199.62" y="75.30" width="6.15" height="5.48" fill="#e5ff1a"/>
<rect x="205.37" y="75.30" width="6.15" height="5.48" fill="#e5ff1a"/>
<rect x="211.12" y="75.30" width="6.15" height="5.48" fill="#b3ff4c"/>
<rect x="216.87" y="75.30" width="6.15" height="5.48" fill="#b3ff4c"/>
<rect x="222.62" y="75.30" width="6.15" height="5.48" fill="#b3ff4c"/>
<rect x="228.36" y="75.30" width="6.15" height="5.48" fill="#b3ff4c"/>
<rect x="234.11" y="75.30" width="6.15" height="5.48" fill="#b3ff4c"/>
<rect x="239.86" y="75.30" width="6.15" height="5.48" fill="#b3ff4c"/>
<rect x="245.61" y="75.30" width="6.15" height="5.48" fill="#5effa2"/>
<rect x="251.35" y="75.30" width="6.15" height="5.48" fill="#1affe5"/>
<rect x="257.10" y="75.30" width="6.15" height="5.48" fill="#1affe5"/>
<rect x="21.45" y="80.38" width="6.15" height="5.48" fill="#c30000"/>
<rect x="27.20" y="80.38" width="6.15" height="5.48" fill="#c30000"/>
<rect x="32.95" y="80.38" width="6.15" height="5.48" fill="#c30000"/>
<rect x="38.70" y="80.38" width="6.15" height="5.48" fill="#ff0800"/>
<rect x="44.44" y="80.38" width="6.15" height="5.48" fill="#ff0800"/>
<rect x="50.19" y="80.38" width="6.15" height="5.48" fill="#ff9100"/>
<rect x="55.94" y="80.38" width="6.15" height="5.48" fill="#e5ff1a"/>
<rect x="61.69" y="80.38" width="6.15" height="5.48" fill="#e5ff1a"/>
<rect x="67.43" y="80.38" width="6.15" height="5.48" fill="#e5ff1a"/>
<rect x="73.18" y="80.38" width="6.15" height="5.48" fill="#e5ff1a"/>
<rect x="78.93" y="80.38" width="6.15" height="5.48" fill="#e5ff1a"/>
<rect x="84.68" y="80.38" width="6.15" height="5.48" fill="#e5ff1a"/>
<rect x="90.42" y="80.38" width="6.15" height="5.48" fill="#e5ff1a"/>
<rect x="96.17" y="80.38" width="6.15" height="5.48" fill="#e5ff1a"/>
<rect x="101.92" y="80.38" width="6.15" height="5.48" fill="#b3ff4c"/>
<rect x="107.67" y="80.38" width="6.15" height="5.48" fill="#1affe5"/>
<rect x="113.41" y="80.38" width="6.15" height="5.48" fill="#1affe5"/>
<rect x="119.16" y="80.38" width="6.15" height="5.48" fill="#5effa2"/>
<rect x="124.91" y="80.38" width="6.15" height="5.48" fill="#b3ff4c"/>
<rect x="130.66" y="80.38" width="6.15" height="5.48" fill="#ffd500"/>
<rect x="136.40" y="80.38" width="6.15" height="5.48" fill="#ff9100"/>
<rect x="142.15" y="80.38" width="6.15" height="5.48" fill="#ff9100"/>
<rect x="147.90" y="80.38" width="6.15" height="5.48" fill="#ffd500"/>
<rect x="153.65" y="80.38" width="6.15" height="5.48" fill="#ffd500"/>
<rect x="159.39" y="80.38" width="6.15" height="5.48" fill="#ffd500"/>
<rect x="165.14" y="80.38" width="6.15" height="5.48" fill="#ffd500"/>
<rect x="170.89" y="80.38" width="6.15" height="5.48" fill="#e5ff1a"/>
<rect x="176.63" y="80.38" width="6.15" height="5.48" fill="#e5ff1a"/>
<rect x="182.38" y="80.38" width="6.15" height="5.48" fill="#e5ff1a"/>
<rect x="188.13" y="80.38" width="6.15" height="5.48" fill="#e5ff1a"/>
<rect x="193.88" y="80.38" width="6.15" height="5.48" fill="#e5ff1a"/>
<rect x="199.62" y="80.38" width="6.15" height="5.48" fill="#e5ff1a"/>
<rect x="205.37" y="80.38" width="6.15" height="5.48" fill="#e5ff1a"/>
<rect x="211.12" y="80.38" width="6.15" height="5.48" fill="#e5ff1a"/>
<rect x="216.87" y="80.38" width="6.15" height="5.48" fill="#e5ff1a"/>
<rect x="222.62" y="80.38" width="6.15" height="5.48" fill="#e5ff1a"/>
<rect x="228.36" y="80.38" width="6.15" height="5.48" fill="#e5ff1a"/>
<rect x="234.11" y="80.38" width="6.15" height="5.48" fill="#e5ff1a"/>
<rect x="239.86" y="80.38" width="6.15" height="5.48" fill="#e5ff1a"/>
<rect x="245.61" y="80.38" width="6.15" height="5.48" fill="#e5ff1a"/>
<rect x="251.35" y="80.38" width="6.15" height="5.48" fill="#b3ff4c"/>
<rect x="257.10" y="80.38" width="6.15" height="5.48" fill="#b3ff4c"/>
<rect x="21.45" y="85.45" width="6.15" height="5.48" fill="#ff0800"/>
<rect x="27.20" y="85.45" width="6.15" height="5.48" fill="#ff0800"/>
<rect x="32.95" y="85.45" width="6.15" height="5.48" fill="#ff0800"/>
<rect x="38.70" y="85.45" width="6.15" height="5.48" fill="#ff4c00"/>
<rect x="44.44" y="85.45" width="6.15" height="5.48" fill="#ff9100"/>
<rect x="50.19" y="85.45" width="6.15" height="5.48" fill="#e5ff1a"/>
<rect x="55.94" y="85.45" width="6.15" height="5.48" fill="#e5ff1a"/>
<rect x="61.69" y="85.45" width="6.15" height="5.48" fill="#e5ff1a"/>
<rect x="67.43" y="85.45" width="6.15" height="5.48" fill="#e5ff1a"/>
<rect x="73.18" y="85.45" width="6.15" height="5.48" fill="#e5ff1a"/>
<rect x="78.93" y="85.45" width="6.15" height="5.48" fill="#e5ff1a"/>
<rect x="84.68" y="85.45" width="6.15" height="5.48" fill="#e5ff1a"/>
<rect x="90.42" y="85.45" width="6.15" height="5.48" fill="#e5ff1a"/>
<rect x="96.17" y="85.45" width="6.15" height="5.48" fill="#b3ff4c"/>
<rect x="101.92" y="85.45" width="6.15" height="5.48" fill="#1affe5"/>
<rect x="107.67" y="85.45" width="6.15" height="5.48" fill="#004dff"/>
<rect x="113.41" y="85.45" width="6.15" height="5.48" fill="#004dff"/>
<rect x="119.16" y="85.45" width="6.15" height="5.48" fill="#1affe5"/>
<rect x="124.91" y="85.45" width="6.15" height="5.48" fill="#ffd500"/>
<rect x="130.66" y="85.45" width="6.15" height="5.48" fill="#ff4c00"/>
<rect x="136.40" y="85.45" width="6.15" height="5.48" fill="#ff0800"/>
<rect x="142.15" y="85.45" width="6.15" height="5.48" fill="#ff0800"/>
<rect x="147.90" y="85.45" width="6.15" height="5.48" fill="#ff0800"/>
<rect x="153.65" y="85.45" width="6.15" height="5.48" fill="#ff0800"/>
<rect x="159.39" y="85.45" width="6.15" height="5.48" fill="#ff0800"/>
<rect x="165.14" y="85.45" width="6.15" height="5.48" fill="#ff0800"/>
<rect x="170.89" y="85.45" width="6.15" height="5.48" fill="#ff4c00"/>
<rect x="176.63" y="85.45" width="6.15" height="5.48" fill="#ff9100"/>
<rect x="182.38" y="85.45" width="6.15" height="5.48" fill="#e5ff1a"/>
<rect x="188.13" y="85.45" width="6.15" height="5.48" fill="#e5ff1a"/>
<rect x="193.88" y="85.45" width="6.15" height="5.48" fill="#e5ff1a"/>
<rect x="199.62" y="85.45" width="6.15" height="5.48" fill="#e5ff1a"/>
<rect x="205.37" y="85.45" width="6.15" height="5.48" fill="#b3ff4c"/>
<rect x="211.12" y="85.45" width="6.15" height="5.48" fill="#ffd500"/>
<rect x="216.87" y="85.45" width="6.15" height="5.48" fill="#ff4c00"/>
<rect x="222.62" y="85.45" width="6.15" height="5.48" fill="#ff4c00"/>
<rect x="228.36" y="85.45" width="6.15" height="5.48" fill="#ff4c00"/>
<rect x="234.11" y="85.45" width="6.15" height="5.48" fill="#ff4c00"/>
<rect x="239.86" y="85.45" width="6.15" height="5.48" fill="#ff4c00"/>
<rect x="245.61" y="85.45" width="6.15" height="5.48" fill="#ff4c00"/>
<rect x="251.35" y="85.45" width="6.15" height="5.48" fill="#ff4c00"/>
<rect x="257.10" y="85.45" width="6.15" height="5.48" fill="#ff4c00"/>
<rect x="21.45" y="90.53" width="6.15" height="5.48" fill="#ff9100"/>
<rect x="27.20" y="90.53" width="6.15" height="5.48" fill="#ff9100"/>
<rect x="32.95" y="90.53" width="6.15" height="5.48" fill="#ffd500"/>
<rect x="38.70" y="90.53" width="6.15" height="5.48" fill="#e5ff1a"/>
<rect x="44.44" y="90.53" width="6.15" height="5.48" fill="#e5ff1a"/>
<rect x="50.19" y="90.53" width="6.15" height="5.48" fill="#e5ff1a"/>
<rect x="55.94" y="90.53" width="6.15" height="5.48" fill="#e5ff1a"/>
<rect x="61.69" y="90.53" width="6.15" height="5.48" fill="#e5ff1a"/>
<rect x="67.43" y="90.53" width="6.15" height="5.48" fill="#e5ff1a"/>
<rect x="73.18" y="90.53" width="6.15" height="5.48" fill="#e5ff1a"/>
<rect x="78.93" y="90.53" width="6.15" height="5.48" fill="#e5ff1a"/>
<rect x="84.68" y="90.53" width="6.15" height="5.48" fill="#e5ff1a"/>
<rect x="90.42" y="90.53" width="6.15" height="5.48" fill="#e5ff1a"/>
<rect x="96.17" y="90.53" width="6.15" height="5.48" fill="#b3ff4c"/>
<rect x="101.92" y="90.53" width="6.15" height="5.48" fill="#1affe5"/>
<rect x="107.67" y="90.53" width="6.15" height="5.48" fill="#0008ff"/>
<rect x="113.41" y="90.53" width="6.15" height="5.48" fill="#0008ff"/>
<rect x="119.16" y="90.53" width="6.15" height="5.48" fill="#00d4ff"/>
<rect x="124.91" y="90.53" width="6.15" height="5.48" fill="#ffd500"/>
<rect x="130.66" y="90.53" width="6.15" height="5.48" fill="#c30000"/>
<rect x="136.40" y="90.53" width="6.15" height="5.48" fill="#c30000"/>
<rect x="142.15" y="90.53" width="6.15" height="5.48" fill="#c30000"/>
<rect x="147.90" y="90.53" width="6.15" height="5.48" fill="#c30000"/>
<rect x="153.65" y="90.53" width="6.15" height="5.48" fill="#c30000"/>
<rect x="159.39" y="90.53" width="6.15" height="5.48" fill="#c30000"/>
<rect x="165.14" y="90.53" width="6.15" height="5.48" fill="#ff0800"/>
<rect x="170.89" y="90.53" width="6.15" height="5.48" fill="#ff4c00"/>
<rect x="176.63" y="90.53" width="6.15" height="5.48" fill="#ff9100"/>
<rect x="182.38" y="90.53" width="6.15" height="5.48" fill="#b3ff4c"/>
<rect x="188.13" y="90.53" width="6.15" height="5.48" fill="#e5ff1a"/>
<rect x="193.88" y="90.53" width="6.15" height="5.48" fill="#b3ff4c"/>
<rect x="199.62" y="90.53" width="6.15" height="5.48" fill="#b3ff4c"/>
<rect x="205.37" y="90.53" width="6.15" height="5.48" fill="#e5ff1a"/>
<rect x="211.12" y="90.53" width="6.15" height="5.48" fill="#ff9100"/>
<rect x="216.87" y="90.53" width="6.15" height="5.48" fill="#ff0800"/>
<rect x="222.62" y="90.53" width="6.15" height="5.48" fill="#ff0800"/>
<rect x="228.36" y="90.53" width="6.15" height="5.48" fill="#ff0800"/>
<rect x="234.11" y="90.53" width="6.15" height="5.48" fill="#ff0800"/>
<rect x="239.86" y="90.53" width="6.15" height="5.48" fill="#ff0800"/>
<rect x="245.61" y="90.53" width="6.15" height="5.48" fill="#ff0800"/>
<rect x="251.35" y="90.53" width="6.15" height="5.48" fill="#ff0800"/>
<rect x="257.10" y="90.53" width="6.15" height="5.48" fill="#ff0800"/>
<rect x="21.45" y="95.61" width="6.15" height="5.48" fill="#e5ff1a"/>
<rect x="27.20" y="95.61" width="6.15" height="5.48" fill="#e5ff1a"/>
<rect x="32.95" y="95.61" width="6.15" height="5.48" fill="#b3ff4c"/>
<rect x="38.70" y="95.61" width="6.15" height="5.48" fill="#b3ff4c"/>
<rect x="44.44" y="95.61" width="6.15" height="5.48" fill="#b3ff4c"/>
<rect x="50.19" y="95.61" width="6.15" height="5.48" fill="#b3ff4c"/>
<rect x="55.94" y="95.61" width="6.15" height="5.48" fill="#b3ff4c"/>
<rect x="61.69" y="95.61" width="6.15" height="5.48" fill="#b3ff4c"/>
<rect x="67.43" y="95.61" width="6.15" height="5.48" fill="#b3ff4c"/>
<rect x="73.18" y="95.61" width="6.15" height="5.48" fill="#e5ff1a"/>
<rect x="78.93" y="95.61" width="6.15" height="5.48" fill="#e5ff1a"/>
<rect x="84.68" y="95.61" width="6.15" height="5.48" fill="#e5ff1a"/>
<rect x="90.42" y="95.61" width="6.15" height="5.48" fill="#e5ff1a"/>
<rect x="96.17" y="95.61" width="6.15" height="5.48" fill="#e5ff1a"/>
<rect x="101.92" y="95.61" width="6.15" height="5.48" fill="#1affe5"/>
<rect x="107.67" y="95.61" width="6.15" height="5.48" fill="#0008ff"/>
<rect x="113.41" y="95.61" width="6.15" height="5.48" fill="#0008ff"/>
<rect x="119.16" y="95.61" width="6.15" height="5.48" fill="#00d4ff"/>
<rect x="124.91" y="95.61" width="6.15" height="5.48" fill="#ffd500"/>
<rect x="130.66" y="95.61" width="6.15" height="5.48" fill="#c30000"/>
<rect x="136.40" y="95.61" width="6.15" height="5.48" fill="#c30000"/>
<rect x="142.15" y="95.61" width="6.15" height="5.48" fill="#c30000"/>
<rect x="147.90" y="95.61" width="6.15" height="5.48" fill="#c30000"/>
<rect x="153.65" y="95.61" width="6.15" height="5.48" fill="#c30000"/>
<rect x="159.39" y="95.61" width="6.15" height="5.48" fill="#ff0800"/>
<rect x="165.14" y="95.61" width="6.15" height="5.48" fill="#ff0800"/>
<rect x="170.89" y="95.61" width="6.15" height="5.48" fill="#ff4c00"/>
<rect x="176.63" y="95.61" width="6.15" height="5.48" fill="#ff9100"/>
<rect x="182.38" y="95.61" width="6.15" height="5.48" fill="#b3ff4c"/>
<rect x="188.13" y="95.61" width="6.15" height="5.48" fill="#e5ff1a"/>
<rect x="193.88" y="95.61" width="6.15" height="5.48" fill="#b3ff4c"/>
<rect x="199.62" y="95.61" width="6.15" height="5.48" fill="#b3ff4c"/>
<rect x="205.37" y="95.61" width="6.15" height="5.48" fill="#ffd500"/>
<rect x="211.12" y="95.61" width="6.15" height="5.48" fill="#ff0800"/>
<rect x="216.87" y="95.61" width="6.15" height="5.48" fill="#ff0800"/>
<rect x="222.62" y="95.61" width="6.15" height="5.48" fill="#ff0800"/>
<rect x="228.36" y="95.61" width="6.15" height="5.48" fill="#ff0800"/>
<rect x="234.11" y="95.61" width="6.15" height="5.48" fill="#ff0800"/>
<rect x="239.86" y="95.61" width="6.15" height="5.48" fill="#ff0800"/>
<rect x="245.61" y="95.61" width="6.15" height="5.48" fill="#ff0800"/>
<rect x="251.35" y="95.61" width="6.15" height="5.48" fill="#ff0800"/>
<rect x="257.10" y="95.61" width="6.15" height="5.48" fill="#ff0800"/>
<rect x="21.45" y="100.69" width="6.15" height="5.48" fill="#1affe5"/>
<rect x="27.20" y="100.69" width="6.15" height="5.48" fill="#1affe5"/>
<rect x="32.95" y="100.69" width="6.15" height="5.48" fill="#1affe5"/>
<rect x="38.70" y="100.69" width="6.15" height="5.48" fill="#1affe5"/>
<rect x="44.44" y="100.69" width="6.15" height="5.48" fill="#1affe5"/>
<rect x="50.19" y="100.69" width="6.15" height="5.48" fill="#1affe5"/>
<rect x="55.94" y="100.69" width="6.15" height="5.48" fill="#5effa2"/>
<rect x="61.69" y="100.69" width="6.15" height="5.48" fill="#5effa2"/>
<rect x="67.43" y="100.69" width="6.15" height="5.48" fill="#5effa2"/>
<rect x="73.18" y="100.69" width="6.15" height="5.48" fill="#5effa2"/>
<rect x="78.93" y="100.69" width="6.15" height="5.48" fill="#b3ff4c"/>
<rect x="84.68" y="100.69" width="6.15" height="5.48" fill="#e5ff1a"/>
<rect x="90.42" y="100.69" width="6.15" height="5.48" fill="#e5ff1a"/>
<rect x="96.17" y="100.69" width="6.15" height="5.48" fill="#e5ff1a"/>
<rect x="101.92" y="100.69" width="6.15" height="5.48" fill="#1affe5"/>
<rect x="107.67" y="100.69" width="6.15" height="5.48" fill="#004dff"/>
<rect x="113.41" y="100.69" width="6.15" height="5.48" fill="#004dff"/>
<rect x="119.16" y="100.69" width="6.15" height="5.48" fill="#00d4ff"/>
<rect x="124.91" y="100.69" width="6.15" height="5.48" fill="#ffd500"/>
<rect x="130.66" y="100.69" width="6.15" height="5.48" fill="#c30000"/>
<rect x="136.40" y="100.69" width="6.15" height="5.48" fill="#c30000"/>
<rect x="142.15" y="100.69" width="6.15" height="5.48" fill="#c30000"/>
<rect x="147.90" y="100.69" width="6.15" height="5.48" fill="#c30000"/>
<rect x="153.65" y="100.69" width="6.15" height="5.48" fill="#ff0800"/>
<rect x="159.39" y="100.69" width="6.15" height="5.48" fill="#ff0800"/>
<rect x="165.14" y="100.69" width="6.15" height="5.48" fill="#ff0800"/>
<rect x="170.89" y="100.69" width="6.15" height="5.48" fill="#ff4c00"/>
<rect x="176.63" y="100.69" width="6.15" height="5.48" fill="#ff9100"/>
<rect x="182.38" y="100.69" width="6.15" height="5.48" fill="#b3ff4c"/>
<rect x="188.13" y="100.69" width="6.15" height="5.48" fill="#b3ff4c"/>
<rect x="193.88" y="100.69" width="6.15" height="5.48" fill="#b3ff4c"/>
<rect x="199.62" y="100.69" width="6.15" height="5.48" fill="#e5ff1a"/>
<rect x="205.37" y="100.69" width="6.15" height="5.48" fill="#ff9100"/>
<rect x="211.12" y="100.69" width="6.15" height="5.48" fill="#ff0800"/>
<rect x="216.87" y="100.69" width="6.15" height="5.48" fill="#c30000"/>
<rect x="222.62" y="100.69" width="6.15" height="5.48" fill="#c30000"/>
<rect x="228.36" y="100.69" width="6.15" height="5.48" fill="#ff0800"/>
<rect x="234.11" y="100.69" width="6.15" height="5.48" fill="#ff0800"/>
<rect x="239.86" y="100.69" width="6.15" height="5.48" fill="#ff4c00"/>
<rect x="245.61" y="100.69" width="6.15" height="5.48" fill="#ff4c00"/>
<rect x="251.35" y="100.69" width="6.15" height="5.48" fill="#ff4c00"/>
<rect x="257.10" y="100.69" width="6.15" height="5.48" fill="#ff4c00"/>
<rect x="21.45" y="105.76" width="6.15" height="5.48" fill="#0090ff"/>
<rect x="27.20" y="105.76" width="6.15" height="5.48" fill="#0090ff"/>
<rect x="32.95" y="105.76" width="6.15" height="5.48" fill="#0090ff"/>
<rect x="38.70" y="105.76" width="6.15" height="5.48" fill="#0090ff"/>
<rect x="44.44" y="105.76" width="6.15" height="5.48" fill="#0090ff"/>
<rect x="50.19" y="105.76" width="6.15" height="5.48" fill="#00d4ff"/>
<rect x="55.94" y="105.76" width="6.15" height="5.48" fill="#00d4ff"/>
<rect x="61.69" y="105.76" width="6.15" height="5.48" fill="#00d4ff"/>
<rect x="67.43" y="105.76" width="6.15" height="5.48" fill="#00d4ff"/>
<rect x="73.18" y="105.76" width="6.15" height="5.48" fill="#1affe5"/>
<rect x="78.93" y="105.76" width="6.15" height="5.48" fill="#5effa2"/>
<rect x="84.68" y="105.76" width="6.15" height="5.48" fill="#e5ff1a"/>
<rect x="90.42" y="105.76" width="6.15" height="5.48" fill="#e5ff1a"/>
<rect x="96.17" y="105.76" width="6.15" height="5.48" fill="#e5ff1a"/>
<rect x="101.92" y="105.76" width="6.15" height="5.48" fill="#b3ff4c"/>
<rect x="107.67" y="105.76" width="6.15" height="5.48" fill="#5effa2"/>
<rect x="113.41" y="105.76" width="6.15" height="5.48" fill="#5effa2"/>
<rect x="119.16" y="105.76" width="6.15" height="5.48" fill="#b3ff4c"/>
<rect x="124.91" y="105.76" width="6.15" height="5.48" fill="#ffd500"/>
<rect x="130.66" y="105.76" width="6.15" height="5.48" fill="#c30000"/>
<rect x="136.40" y="105.76" width="6.15" height="5.48" fill="#c30000"/>
<rect x="142.15" y="105.76" width="6.15" height="5.48" fill="#c30000"/>
<rect x="147.90" y="105.76" width="6.15" height="5.48" fill="#c30000"/>
<rect x="153.65" y="105.76" width="6.15" height="5.48" fill="#c30000"/>
<rect x="159.39" y="105.76" width="6.15" height="5.48" fill="#c30000"/>
<rect x="165.14" y="105.76" width="6.15" height="5.48" fill="#ff0800"/>
<rect x="170.89" y="105.76" width="6.15" height="5.48" fill="#ff4c00"/>
<rect x="176.63" y="105.76" width="6.15" height="5.48" fill="#ff9100"/>
<rect x="182.38" y="105.76" width="6.15" height="5.48" fill="#5effa2"/>
<rect x="188.13" y="105.76" width="6.15" height="5.48" fill="#5effa2"/>
<rect x="193.88" y="105.76" width="6.15" height="5.48" fill="#b3ff4c"/>
<rect x="199.62" y="105.76" width="6.15" height="5.48" fill="#ffd500"/>
<rect x="205.37" y="105.76" width="6.15" height="5.48" fill="#ff4c00"/>
<rect x="211.12" y="105.76" width="6.15" height="5.48" fill="#ff0800"/>
<rect x="216.87" y="105.76" width="6.15" height="5.48" fill="#c30000"/>
<rect x="222.62" y="105.76" width="6.15" height="5.48" fill="#ff0800"/>
<rect x="228.36" y="105.76" width="6.15" height="5.48" fill="#ff0800"/>
<rect x="234.11" y="105.76" width="6.15" height="5.48" fill="#ff0800"/>
<rect x="239.86" y="105.76" width="6.15" height="5.48" fill="#ff4c00"/>
<rect x="245.61" y="105.76" width="6.15" height="5.48" fill="#ff4c00"/>
<rect x="251.35" y="105.76" width="6.15" height="5.48" fill="#ff4c00"/>
<rect x="257.10" y="105.76" width="6.15" height="5.48" fill="#ff4c00"/>
<rect x="21.45" y="110.84" width="6.15" height="5.48" fill="#0008ff"/>
<rect x="27.20" y="110.84" width="6.15" height="5.48" fill="#0008ff"/>
<rect x="32.95" y="110.84" width="6.15" height="5.48" fill="#0008ff"/>
<rect x="38.70" y="110.84" width="6.15" height="5.48" fill="#0008ff"/>
<rect x="44.44" y="110.84" width="6.15" height="5.48" fill="#0008ff"/>
<rect x="50.19" y="110.84" width="6.15" height="5.48" fill="#0008ff"/>
<rect x="55.94" y="110.84" width="6.15" height="5.48" fill="#0008ff"/>
<rect x="61.69" y="110.84" width="6.15" height="5.48" fill="#0008ff"/>
<rect x="67.43" y="110.84" width="6.15" height="5.48" fill="#004dff"/>
<rect x="73.18" y="110.84" width="6.15" height="5.48" fill="#00d4ff"/>
<rect x="78.93" y="110.84" width="6.15" height="5.48" fill="#b3ff4c"/>
<rect x="84.68" y="110.84" width="6.15" height="5.48" fill="#e5ff1a"/>
<rect x="90.42" y="110.84" width="6.15" height="5.48" fill="#e5ff1a"/>
<rect x="96.17" y="110.84" width="6.15" height="5.48" fill="#e5ff1a"/>
<rect x="101.92" y="110.84" width="6.15" height="5.48" fill="#e5ff1a"/>
<rect x="107.67" y="110.84" width="6.15" height="5.48" fill="#e5ff1a"/>
<rect x="113.41" y="110.84" width="6.15" height="5.48" fill="#ffd500"/>
<rect x="119.16" y="110.84" width="6.15" height="5.48" fill="#ff9100"/>
<rect x="124.91" y="110.84" width="6.15" height="5.48" fill="#ff4c00"/>
<rect x="130.66" y="110.84" width="6.15" height="5.48" fill="#c30000"/>
<rect x="136.40" y="110.84" width="6.15" height="5.48" fill="#c30000"/>
<rect x="142.15" y="110.84" width="6.15" height="5.48" fill="#c30000"/>
<rect x="147.90" y="110.84" width="6.15" height="5.48" fill="#c30000"/>
<rect x="153.65" y="110.84" width="6.15" height="5.48" fill="#c30000"/>
<rect x="159.39" y="110.84" width="6.15" height="5.48" fill="#c30000"/>
<rect x="165.14" y="110.84" width="6.15" height="5.48" fill="#c30000"/>
<rect x="170.89" y="110.84" width="6.15" height="5.48" fill="#ff0800"/>
<rect x="176.63" y="110.84" width="6.15" height="5.48" fill="#ff9100"/>
<rect x="182.38" y="110.84" width="6.15" height="5.48" fill="#5effa2"/>
<rect x="188.13" y="110.84" width="6.15" height="5.48" fill="#1affe5"/>
<rect x="193.88" y="110.84" width="6.15" height="5.48" fill="#b3ff4c"/>
<rect x="199.62" y="110.84" width="6.15" height="5.48" fill="#e5ff1a"/>
<rect x="205.37" y="110.84" width="6.15" height="5.48" fill="#ffd500"/>
<rect x="211.12" y="110.84" width="6.15" height="5.48" fill="#ff9100"/>
<rect x="216.87" y="110.84" width="6.15" height="5.48" fill="#ff4c00"/>
<rect x="222.62" y="110.84" width="6.15" height="5.48" fill="#ff4c00"/>
<rect x="228.36" y="110.84" width="6.15" height="5.48" fill="#ff9100"/>
<rect x="234.11" y="110.84" width="6.15" height="5.48" fill="#ffd500"/>
<rect x="239.86" y="110.84" width="6.15" height="5.48" fill="#ffd500"/>
<rect x="245.61" y="110.84" width="6.15" height="5.48" fill="#ffd500"/>
<rect x="251.35" y="110.84" width="6.15" height="5.48" fill="#e5ff1a"/>
<rect x="257.10" y="110.84" width="6.15" height="5.48" fill="#e5ff1a"/>
<rect x="21.45" y="115.92" width="6.15" height="5.48" fill="#0008ff"/>
<rect x="27.20" y="115.92" width="6.15" height="5.48" fill="#0008ff"/>
<rect x="32.95" y="115.92" width="6.15" height="5.48" fill="#0000c3"/>
<rect x="38.70" y="115.92" width="6.15" height="5.48" fill="#0000c3"/>
<rect x="44.44" y="115.92" width="6.15" height="5.48" fill="#0000c3"/>
<rect x="50.19" y="115.92" width="6.15" height="5.48" fill="#0000c3"/>
<rect x="55.94" y="115.92" width="6.15" height="5.48" fill="#0008ff"/>
<rect x="61.69" y="115.92" width="6.15" height="5.48" fill="#0008ff"/>
<rect x="67.43" y="115.92" width="6.15" height="5.48" fill="#004dff"/>
<rect x="73.18" y="115.92" width="6.15" height="5.48" fill="#00d4ff"/>
<rect x="78.93" y="115.92" width="6.15" height="5.48" fill="#b3ff4c"/>
<rect x="84.68" y="115.92" width="6.15" height="5.48" fill="#ffd500"/>
<rect x="90.42" y="115.92" width="6.15" height="5.48" fill="#e5ff1a"/>
<rect x="96.17" y="115.92" width="6.15" height="5.48" fill="#e5ff1a"/>
<rect x="101.92" y="115.92" width="6.15" height="5.48" fill="#e5ff1a"/>
<rect x="107.67" y="115.92" width="6.15" height="5.48" fill="#ffd500"/>
<rect x="113.41" y="115.92" width="6.15" height="5.48" fill="#ff4c00"/>
<rect x="119.16" y="115.92" width="6.15" height="5.48" fill="#ff0800"/>
<rect x="124.91" y="115.92" width="6.15" height="5.48" fill="#c30000"/>
<rect x="130.66" y="115.92" width="6.15" height="5.48" fill="#c30000"/>
<rect x="136.40" y="115.92" width="6.15" height="5.48" fill="#c30000"/>
<rect x="142.15" y="115.92" width="6.15" height="5.48" fill="#c30000"/>
<rect x="147.90" y="115.92" width="6.15" height="5.48" fill="#c30000"/>
<rect x="153.65" y="115.92" width="6.15" height="5.48" fill="#c30000"/>
<rect x="159.39" y="115.92" width="6.15" height="5.48" fill="#c30000"/>
<rect x="165.14" y="115.92" width="6.15" height="5.48" fill="#c30000"/>
<rect x="170.89" y="115.92" width="6.15" height="5.48" fill="#ff0800"/>
<rect x="176.63" y="115.92" width="6.15" height="5.48" fill="#ff9100"/>
<rect x="182.38" y="115.92" width="6.15" height="5.48" fill="#1affe5"/>
<rect x="188.13" y="115.92" width="6.15" height="5.48" fill="#1affe5"/>
<rect x="193.88" y="115.92" width="6.15" height="5.48" fill="#b3ff4c"/>
<rect x="199.62" y="115.92" width="6.15" height="5.48" fill="#e5ff1a"/>
<rect x="205.37" y="115.92" width="6.15" height="5.48" fill="#e5ff1a"/>
<rect x="211.12" y="115.92" width="6.15" height="5.48" fill="#e5ff1a"/>
<rect x="216.87" y="115.92" width="6.15" height="5.48" fill="#ffd500"/>
<rect x="222.62" y="115.92" width="6.15" height="5.48" fill="#ffd500"/>
<rect x="228.36" y="115.92" width="6.15" height="5.48" fill="#e5ff1a"/>
<rect x="234.11" y="115.92" width="6.15" height="5.48" fill="#e5ff1a"/>
<rect x="239.86" y="115.92" width="6.15" height="5.48" fill="#b3ff4c"/>
<rect x="245.61" y="115.92" width="6.15" height="5.48" fill="#b3ff4c"/>
<rect x="251.35" y="115.92" width="6.15" height="5.48" fill="#b3ff4c"/>
<rect x="257.10" y="115.92" width="6.15" height="5.48" fill="#b3ff4c"/>
<rect x="21.45" y="121.00" width="6.15" height="5.48" fill="#0008ff"/>
<rect x="27.20" y="121.00" width="6.15" height="5.48" fill="#0008ff"/>
<rect x="32.95" y="121.00" width="6.15" height="5.48" fill="#0000c3"/>
<rect x="38.70" y="121.00" width="6.15" height="5.48" fill="#0000c3"/>
<rect x="44.44" y="121.00" width="6.15" height="5.48" fill="#0008ff"/>
<rect x="50.19" y="121.00" width="6.15" height="5.48" fill="#0008ff"/>
<rect x="55.94" y="121.00" width="6.15" height="5.48" fill="#0008ff"/>
<rect x="61.69" y="121.00" width="6.15" height="5.48" fill="#0008ff"/>
<rect x="67.43" y="121.00" width="6.15" height="5.48" fill="#004dff"/>
<rect x="73.18" y="121.00" width="6.15" height="5.48" fill="#00d4ff"/>
<rect x="78.93" y="121.00" width="6.15" height="5.48" fill="#b3ff4c"/>
<rect x="84.68" y="121.00" width="6.15" height="5.48" fill="#e5ff1a"/>
<rect x="90.42" y="121.00" width="6.15" height="5.48" fill="#e5ff1a"/>
<rect x="96.17" y="121.00" width="6.15" height="5.48" fill="#e5ff1a"/>
<rect x="101.92" y="121.00" width="6.15" height="5.48" fill="#e5ff1a"/>
<rect x="107.67" y="121.00" width="6.15" height="5.48" fill="#ff9100"/>
<rect x="113.41" y="121.00" width="6.15" height="5.48" fill="#ff0800"/>
<rect x="119.16" y="121.00" width="6.15" height="5.48" fill="#c30000"/>
<rect x="124.91" y="121.00" width="6.15" height="5.48" fill="#c30000"/>
<rect x="130.66" y="121.00" width="6.15" height="5.48" fill="#c30000"/>
<rect x="136.40" y="121.00" width="6.15" height="5.48" fill="#c30000"/>
<rect x="142.15" y="121.00" width="6.15" height="5.48" fill="#c30000"/>
<rect x="147.90" y="121.00" width="6.15" height="5.48" fill="#c30000"/>
<rect x="153.65" y="121.00" width="6.15" height="5.48" fill="#c30000"/>
<rect x="159.39" y="121.00" width="6.15" height="5.48" fill="#c30000"/>
<rect x="165.14" y="121.00" width="6.15" height="5.48" fill="#c30000"/>
<rect x="170.89" y="121.00" width="6.15" height="5.48" fill="#ff0800"/>
<rect x="176.63" y="121.00" width="6.15" height="5.48" fill="#ff9100"/>
<rect x="182.38" y="121.00" width="6.15" height="5.48" fill="#1affe5"/>
<rect x="188.13" y="121.00" width="6.15" height="5.48" fill="#1affe5"/>
<rect x="193.88" y="121.00" width="6.15" height="5.48" fill="#5effa2"/>
<rect x="199.62" y="121.00" width="6.15" height="5.48" fill="#5effa2"/>
<rect x="205.37" y="121.00" width="6.15" height="5.48" fill="#1affe5"/>
<rect x="211.12" y="121.00" width="6.15" height="5.48" fill="#1affe5"/>
<rect x="216.87" y="121.00" width="6.15" height="5.48" fill="#1affe5"/>
<rect x="222.62" y="121.00" width="6.15" height="5.48" fill="#1affe5"/>
<rect x="228.36" y="121.00" width="6.15" height="5.48" fill="#1affe5"/>
<rect x="234.11" y="121.00" width="6.15" height="5.48" fill="#1affe5"/>
<rect x="239.86" y="121.00" width="6.15" height="5.48" fill="#1affe5"/>
<rect x="245.61" y="121.00" width="6.15" height="5.48" fill="#00d4ff"/>
<rect x="251.35" y="121.00" width="6.15" height="5.48" fill="#00d4ff"/>
<rect x="257.10" y="121.00" width="6.15" height="5.48" fill="#00d4ff"/>
<rect x="21.45" y="126.07" width="6.15" height="5.48" fill="#0008ff"/>
<rect x="27.20" y="126.07" width="6.15" height="5.48" fill="#0008ff"/>
<rect x="32.95" y="126.07" width="6.15" height="5.48" fill="#0008ff"/>
<rect x="38.70" y="126.07" width="6.15" height="5.48" fill="#0008ff"/>
<rect x="44.44" y="126.07" width="6.15" height="5.48" fill="#0008ff"/>
<rect x="50.19" y="126.07" width="6.15" height="5.48" fill="#0008ff"/>
<rect x="55.94" y="126.07" width="6.15" height="5.48" fill="#004dff"/>
<rect x="61.69" y="126.07" width="6.15" height="5.48" fill="#0090ff"/>
<rect x="67.43" y="126.07" width="6.15" height="5.48" fill="#00d4ff"/>
<rect x="73.18" y="126.07" width="6.15" height="5.48" fill="#1affe5"/>
<rect x="78.93" y="126.07" width="6.15" height="5.48" fill="#b3ff4c"/>
<rect x="84.68" y="126.07" width="6.15" height="5.48" fill="#e5ff1a"/>
<rect x="90.42" y="126.07" width="6.15" height="5.48" fill="#e5ff1a"/>
<rect x="96.17" y="126.07" width="6.15" height="5.48" fill="#e5ff1a"/>
<rect x="101.92" y="126.07" width="6.15" height="5.48" fill="#e5ff1a"/>
<rect x="107.67" y="126.07" width="6.15" height="5.48" fill="#ff9100"/>
<rect x="113.41" y="126.07" width="6.15" height="5.48" fill="#ff0800"/>
<rect x="119.16" y="126.07" width="6.15" height="5.48" fill="#ff0800"/>
<rect x="124.91" y="126.07" width="6.15" height="5.48" fill="#ff0800"/>
<rect x="130.66" y="126.07" width="6.15" height="5.48" fill="#ff0800"/>
<rect x="136.40" y="126.07" width="6.15" height="5.48" fill="#ff0800"/>
<rect x="142.15" y="126.07" width="6.15" height="5.48" fill="#ff0800"/>
<rect x="147.90" y="126.07" width="6.15" height="5.48" fill="#ff0800"/>
<rect x="153.65" y="126.07" width="6.15" height="5.48" fill="#ff0800"/>
<rect x="159.39" y="126.07" width="6.15" height="5.48" fill="#ff0800"/>
<rect x="165.14" y="126.07" width="6.15" height="5.48" fill="#ff0800"/>
<rect x="170.89" y="126.07" width="6.15" height="5.48" fill="#ff4c00"/>
<rect x="176.63" y="126.07" width="6.15" height="5.48" fill="#ff9100"/>
<rect x="182.38" y="126.07" width="6.15" height="5.48" fill="#5effa2"/>
<rect x="188.13" y="126.07" width="6.15" height="5.48" fill="#1affe5"/>
<rect x="193.88" y="126.07" width="6.15" height="5.48" fill="#1affe5"/>
<rect x="199.62" y="126.07" width="6.15" height="5.48" fill="#5effa2"/>
<rect x="205.37" y="126.07" width="6.15" height="5.48" fill="#00d4ff"/>
<rect x="211.12" y="126.07" width="6.15" height="5.48" fill="#0090ff"/>
<rect x="216.87" y="126.07" width="6.15" height="5.48" fill="#0090ff"/>
<rect x="222.62" y="126.07" width="6.15" height="5.48" fill="#0090ff"/>
<rect x="228.36" y="126.07" width="6.15" height="5.48" fill="#0090ff"/>
<rect x="234.11" y="126.07" width="6.15" height="5.48" fill="#0090ff"/>
<rect x="239.86" y="126.07" width="6.15" height="5.48" fill="#0090ff"/>
<rect x="245.61" y="126.07" width="6.15" height="5.48" fill="#0090ff"/>
<rect x="251.35" y="126.07" width="6.15" height="5.48" fill="#0090ff"/>
<rect x="257.10" y="126.07" width="6.15" height="5.48" fill="#0090ff"/>
<rect x="21.45" y="131.15" width="6.15" height="5.48" fill="#004dff"/>
<rect x="27.20" y="131.15" width="6.15" height="5.48" fill="#004dff"/>
<rect x="32.95" y="131.15" width="6.15" height="5.48" fill="#0008ff"/>
<rect x="38.70" y="131.15" width="6.15" height="5.48" fill="#0008ff"/>
<rect x="44.44" y="131.15" width="6.15" height="5.48" fill="#0008ff"/>
<rect x="50.19" y="131.15" width="6.15" height="5.48" fill="#004dff"/>
<rect x="55.94" y="131.15" width="6.15" height="5.48" fill="#0090ff"/>
<rect x="61.69" y="131.15" width="6.15" height="5.48" fill="#00d4ff"/>
<rect x="67.43" y="131.15" width="6.15" height="5.48" fill="#1affe5"/>
<rect x="73.18" y="131.15" width="6.15" height="5.48" fill="#5effa2"/>
<rect x="78.93" y="131.15" width="6.15" height="5.48" fill="#b3ff4c"/>
<rect x="84.68" y="131.15" width="6.15" height="5.48" fill="#b3ff4c"/>
<rect x="90.42" y="131.15" width="6.15" height="5.48" fill="#e5ff1a"/>
<rect x="96.17" y="131.15" width="6.15" height="5.48" fill="#e5ff1a"/>
<rect x="101.92" y="131.15" width="6.15" height="5.48" fill="#e5ff1a"/>
<rect x="107.67" y="131.15" width="6.15" height="5.48" fill="#ffd500"/>
<rect x="113.41" y="131.15" width="6.15" height="5.48" fill="#ff9100"/>
<rect x="119.16" y="131.15" width="6.15" height="5.48" fill="#ff9100"/>
<rect x="124.91" y="131.15" width="6.15" height="5.48" fill="#ff9100"/>
<rect x="130.66" y="131.15" width="6.15" height="5.48" fill="#ff9100"/>
<rect x="136.40" y="131.15" width="6.15" height="5.48" fill="#ff9100"/>
<rect x="142.15" y="131.15" width="6.15" height="5.48" fill="#ffd500"/>
<rect x="147.90" y="131.15" width="6.15" height="5.48" fill="#ffd500"/>
<rect x="153.65" y="131.15" width="6.15" height="5.48" fill="#ffd500"/>
<rect x="159.39" y="131.15" width="6.15" height="5.48" fill="#ffd500"/>
<rect x="165.14" y="131.15" width="6.15" height="5.48" fill="#ff9100"/>
<rect x="170.89" y="131.15" width="6.15" height="5.48" fill="#ff9100"/>
<rect x="176.63" y="131.15" width="6.15" height="5.48" fill="#ffd500"/>
<rect x="182.38" y="131.15" width="6.15" height="5.48" fill="#b3ff4c"/>
<rect x="188.13" y="131.15" width="6.15" height="5.48" fill="#1affe5"/>
<rect x="193.88" y="131.15" width="6.15" height="5.48" fill="#e5ff1a"/>
<rect x="199.62" y="131.15" width="6.15" height="5.48" fill="#b3ff4c"/>
<rect x="205.37" y="131.15" width="6.15" height="5.48" fill="#1affe5"/>
<rect x="211.12" y="131.15" width="6.15" height="5.48" fill="#0090ff"/>
<rect x="216.87" y="131.15" width="6.15" height="5.48" fill="#0008ff"/>
<rect x="222.62" y="131.15" width="6.15" height="5.48" fill="#0008ff"/>
<rect x="228.36" y="131.15" width="6.15" height="5.48" fill="#0008ff"/>
<rect x="234.11" y="131.15" width="6.15" height="5.48" fill="#0008ff"/>
<rect x="239.86" y="131.15" width="6.15" height="5.48" fill="#0008ff"/>
<rect x="245.61" y="131.15" width="6.15" height="5.48" fill="#0008ff"/>
<rect x="251.35" y="131.15" width="6.15" height="5.48" fill="#0008ff"/>
<rect x="257.10" y="131.15" width="6.15" height="5.48" fill="#0008ff"/>
<rect x="21.45" y="136.23" width="6.15" height="5.48" fill="#0008ff"/>
<rect x="27.20" y="136.23" width="6.15" height="5.48" fill="#0008ff"/>
<rect x="32.95" y="136.23" width="6.15" height="5.48" fill="#0000c3"/>
<rect x="38.70" y="136.23" width="6.15" height="5.48" fill="#0000c3"/>
<rect x="44.44" y="136.23" width="6.15" height="5.48" fill="#0008ff"/>
<rect x="50.19" y="136.23" width="6.15" height="5.48" fill="#0008ff"/>
<rect x="55.94" y="136.23" width="6.15" height="5.48" fill="#0090ff"/>
<rect x="61.69" y="136.23" width="6.15" height="5.48" fill="#1affe5"/>
<rect x="67.43" y="136.23" width="6.15" height="5.48" fill="#5effa2"/>
<rect x="73.18" y="136.23" width="6.15" height="5.48" fill="#b3ff4c"/>
<rect x="78.93" y="136.23" width="6.15" height="5.48" fill="#e5ff1a"/>
<rect x="84.68" y="136.23" width="6.15" height="5.48" fill="#e5ff1a"/>
<rect x="90.42" y="136.23" width="6.15" height="5.48" fill="#ffd500"/>
<rect x="96.17" y="136.23" width="6.15" height="5.48" fill="#e5ff1a"/>
<rect x="101.92" y="136.23" width="6.15" height="5.48" fill="#e5ff1a"/>
<rect x="107.67" y="136.23" width="6.15" height="5.48" fill="#e5ff1a"/>
<rect x="113.41" y="136.23" width="6.15" height="5.48" fill="#ffd500"/>
<rect x="119.16" y="136.23" width="6.15" height="5.48" fill="#ffd500"/>
<rect x="124.91" y="136.23" width="6.15" height="5.48" fill="#ffd500"/>
<rect x="130.66" y="136.23" width="6.15" height="5.48" fill="#ffd500"/>
<rect x="136.40" y="136.23" width="6.15" height="5.48" fill="#e5ff1a"/>
<rect x="142.15" y="136.23" width="6.15" height="5.48" fill="#1affe5"/>
<rect x="147.90" y="136.23" width="6.15" height="5.48" fill="#00d4ff"/>
<rect x="153.65" y="136.23" width="6.15" height="5.48" fill="#00d4ff"/>
<rect x="159.39" y="136.23" width="6.15" height="5.48" fill="#00d4ff"/>
<rect x="165.14" y="136.23" width="6.15" height="5.48" fill="#00d4ff"/>
<rect x="170.89" y="136.23" width="6.15" height="5.48" fill="#1affe5"/>
<rect x="176.63" y="136.23" width="6.15" height="5.48" fill="#5effa2"/>
<rect x="182.38" y="136.23" width="6.15" height="5.48" fill="#b3ff4c"/>
<rect x="188.13" y="136.23" width="6.15" height="5.48" fill="#b3ff4c"/>
<rect x="193.88" y="136.23" width="6.15" height="5.48" fill="#e5ff1a"/>
<rect x="199.62" y="136.23" width="6.15" height="5.48" fill="#b3ff4c"/>
<rect x="205.37" y="136.23" width="6.15" height="5.48" fill="#1affe5"/>
<rect x="211.12" y="136.23" width="6.15" height="5.48" fill="#0090ff"/>
<rect x="216.87" y="136.23" width="6.15" height="5.48" fill="#0008ff"/>
<rect x="222.62" y="136.23" width="6.15" height="5.48" fill="#0008ff"/>
<rect x="228.36" y="136.23" width="6.15" height="5.48" fill="#0008ff"/>
<rect x="234.11" y="136.23" width="6.15" height="5.48" fill="#0008ff"/>
<rect x="239.86" y="136.23" width="6.15" height="5.48" fill="#0008ff"/>
<rect x="245.61" y="136.23" width="6.15" height="5.48" fill="#0008ff"/>
<rect x="251.35" y="136.23" width="6.15" height="5.48" fill="#0008ff"/>
<rect x="257.10" y="136.23" width="6.15" height="5.48" fill="#0008ff"/>
<rect x="21.45" y="141.31" width="6.15" height="5.48" fill="#0000c3"/>
<rect x="27.20" y="141.31" width="6.15" height="5.48" fill="#0000c3"/>
<rect x="32.95" y="141.31" width="6.15" height="5.48" fill="#0000c3"/>
<rect x="38.70" y="141.31" width="6.15" height="5.48" fill="#0000c3"/>
<rect x="44.44" y="141.31" width="6.15" height="5.48" fill="#0008ff"/>
<rect x="50.19" y="141.31" width="6.15" height="5.48" fill="#0008ff"/>
<rect x="55.94" y="141.31" width="6.15" height="5.48" fill="#00d4ff"/>
<rect x="61.69" y="141.31" width="6.15" height="5.48" fill="#5effa2"/>
<rect x="67.43" y="141.31" width="6.15" height="5.48" fill="#b3ff4c"/>
<rect x="73.18" y="141.31" width="6.15" height="5.48" fill="#b3ff4c"/>
<rect x="78.93" y="141.31" width="6.15" height="5.48" fill="#e5ff1a"/>
<rect x="84.68" y="141.31" width="6.15" height="5.48" fill="#e5ff1a"/>
<rect x="90.42" y="141.31" width="6.15" height="5.48" fill="#ffd500"/>
<rect x="96.17" y="141.31" width="6.15" height="5.48" fill="#ffd500"/>
<rect x="101.92" y="141.31" width="6.15" height="5.48" fill="#ffd500"/>
<rect x="107.67" y="141.31" width="6.15" height="5.48" fill="#e5ff1a"/>
<rect x="113.41" y="141.31" width="6.15" height="5.48" fill="#ffd500"/>
<rect x="119.16" y="141.31" width="6.15" height="5.48" fill="#ffd500"/>
<rect x="124.91" y="141.31" width="6.15" height="5.48" fill="#ffd500"/>
<rect x="130.66" y="141.31" width="6.15" height="5.48" fill="#e5ff1a"/>
<rect x="136.40" y="141.31" width="6.15" height="5.48" fill="#b3ff4c"/>
<rect x="142.15" y="141.31" width="6.15" height="5.48" fill="#00d4ff"/>
<rect x="147.90" y="141.31" width="6.15" height="5.48" fill="#0008ff"/>
<rect x="153.65" y="141.31" width="6.15" height="5.48" fill="#0008ff"/>
<rect x="159.39" y="141.31" width="6.15" height="5.48" fill="#0008ff"/>
<rect x="165.14" y="141.31" width="6.15" height="5.48" fill="#0008ff"/>
<rect x="170.89" y="141.31" width="6.15" height="5.48" fill="#00d4ff"/>
<rect x="176.63" y="141.31" width="6.15" height="5.48" fill="#5effa2"/>
<rect x="182.38" y="141.31" width="6.15" height="5.48" fill="#b3ff4c"/>
<rect x="188.13" y="141.31" width="6.15" height="5.48" fill="#b3ff4c"/>
<rect x="193.88" y="141.31" width="6.15" height="5.48" fill="#e5ff1a"/>
<rect x="199.62" y="141.31" width="6.15" height="5.48" fill="#b3ff4c"/>
<rect x="205.37" y="141.31" width="6.15" height="5.48" fill="#1affe5"/>
<rect x="211.12" y="141.31" width="6.15" height="5.48" fill="#0090ff"/>
<rect x="216.87" y="141.31" width="6.15" height="5.48" fill="#0008ff"/>
<rect x="222.62" y="141.31" width="6.15" height="5.48" fill="#0008ff"/>
<rect x="228.36" y="141.31" width="6.15" height="5.48" fill="#0008ff"/>
<rect x="234.11" y="141.31" width="6.15" height="5.48" fill="#0008ff"/>
<rect x="239.86" y="141.31" width="6.15" height="5.48" fill="#0008ff"/>
<rect x="245.61" y="141.31" width="6.15" height="5.48" fill="#0008ff"/>
<rect x="251.35" y="141.31" width="6.15" height="5.48" fill="#0008ff"/>
<rect x="257.10" y="141.31" width="6.15" height="5.48" fill="#0008ff"/>
<rect x="21.45" y="146.38" width="6.15" height="5.48" fill="#0008ff"/>
<rect x="27.20" y="146.38" width="6.15" height="5.48" fill="#0008ff"/>
<rect x="32.95" y="146.38" width="6.15" height="5.48" fill="#0008ff"/>
<rect x="38.70" y="146.38" width="6.15" height="5.48" fill="#0008ff"/>
<rect x="44.44" y="146.38" width="6.15" height="5.48" fill="#0008ff"/>
<rect x="50.19" y="146.38" width="6.15" height="5.48" fill="#004dff"/>
<rect x="55.94" y="146.38" width="6.15" height="5.48" fill="#00d4ff"/>
<rect x="61.69" y="146.38" width="6.15" height="5.48" fill="#5effa2"/>
<rect x="67.43" y="146.38" width="6.15" height="5.48" fill="#b3ff4c"/>
<rect x="73.18" y="146.38" width="6.15" height="5.48" fill="#b3ff4c"/>
<rect x="78.93" y="146.38" width="6.15" height="5.48" fill="#b3ff4c"/>
<rect x="84.68" y="146.38" width="6.15" height="5.48" fill="#e5ff1a"/>
<rect x="90.42" y="146.38" width="6.15" height="5.48" fill="#ffd500"/>
<rect x="96.17" y="146.38" width="6.15" height="5.48" fill="#ff9100"/>
<rect x="101.92" y="146.38" width="6.15" height="5.48" fill="#ff9100"/>
<rect x="107.67" y="146.38" width="6.15" height="5.48" fill="#ffd500"/>
<rect x="113.41" y="146.38" width="6.15" height="5.48" fill="#ff9100"/>
<rect x="119.16" y="146.38" width="6.15" height="5.48" fill="#ff9100"/>
<rect x="124.91" y="146.38" width="6.15" height="5.48" fill="#ff9100"/>
<rect x="130.66" y="146.38" width="6.15" height="5.48" fill="#ffd500"/>
<rect x="136.40" y="146.38" width="6.15" height="5.48" fill="#b3ff4c"/>
<rect x="142.15" y="146.38" width="6.15" height="5.48" fill="#00d4ff"/>
<rect x="147.90" y="146.38" width="6.15" height="5.48" fill="#0008ff"/>
<rect x="153.65" y="146.38" width="6.15" height="5.48" fill="#0008ff"/>
<rect x="159.39" y="146.38" width="6.15" height="5.48" fill="#0008ff"/>
<rect x="165.14" y="146.38" width="6.15" height="5.48" fill="#0008ff"/>
<rect x="170.89" y="146.38" width="6.15" height="5.48" fill="#00d4ff"/>
<rect x="176.63" y="146.38" width="6.15" height="5.48" fill="#5effa2"/>
<rect x="182.38" y="146.38" width="6.15" height="5.48" fill="#b3ff4c"/>
<rect x="188.13" y="146.38" width="6.15" height="5.48" fill="#b3ff4c"/>
<rect x="193.88" y="146.38" width="6.15" height="5.48" fill="#e5ff1a"/>
<rect x="199.62" y="146.38" width="6.15" height="5.48" fill="#b3ff4c"/>
<rect x="205.37" y="146.38" width="6.15" height="5.48" fill="#1affe5"/>
<rect x="211.12" y="146.38" width="6.15" height="5.48" fill="#0090ff"/>
<rect x="216.87" y="146.38" width="6.15" height="5.48" fill="#004dff"/>
<rect x="222.62" y="146.38" width="6.15" height="5.48" fill="#004dff"/>
<rect x="228.36" y="146.38" width="6.15" height="5.48" fill="#004dff"/>
<rect x="234.11" y="146.38" width="6.15" height="5.48" fill="#004dff"/>
<rect x="239.86" y="146.38" width="6.15" height="5.48" fill="#004dff"/>
<rect x="245.61" y="146.38" width="6.15" height="5.48" fill="#004dff"/>
<rect x="251.35" y="146.38" width="6.15" height="5.48" fill="#004dff"/>
<rect x="257.10" y="146.38" width="6.15" height="5.48" fill="#004dff"/>
<rect x="21.45" y="151.46" width="6.15" height="5.48" fill="#0090ff"/>
<rect x="27.20" y="151.46" width="6.15" height="5.48" fill="#0090ff"/>
<rect x="32.95" y="151.46" width="6.15" height="5.48" fill="#0090ff"/>
<rect x="38.70" y="151.46" width="6.15" height="5.48" fill="#0090ff"/>
<rect x="44.44" y="151.46" width="6.15" height="5.48" fill="#0090ff"/>
<rect x="50.19" y="151.46" width="6.15" height="5.48" fill="#00d4ff"/>
<rect x="55.94" y="151.46" width="6.15" height="5.48" fill="#1affe5"/>
<rect x="61.69" y="151.46" width="6.15" height="5.48" fill="#5effa2"/>
<rect x="67.43" y="151.46" width="6.15" height="5.48" fill="#b3ff4c"/>
<rect x="73.18" y="151.46" width="6.15" height="5.48" fill="#b3ff4c"/>
<rect x="78.93" y="151.46" width="6.15" height="5.48" fill="#b3ff4c"/>
<rect x="84.68" y="151.46" width="6.15" height="5.48" fill="#b3ff4c"/>
<rect x="90.42" y="151.46" width="6.15" height="5.48" fill="#ffd500"/>
<rect x="96.17" y="151.46" width="6.15" height="5.48" fill="#ff9100"/>
<rect x="101.92" y="151.46" width="6.15" height="5.48" fill="#ff4c00"/>
<rect x="107.67" y="151.46" width="6.15" height="5.48" fill="#ff4c00"/>
<rect x="113.41" y="151.46" width="6.15" height="5.48" fill="#ff4c00"/>
<rect x="119.16" y="151.46" width="6.15" height="5.48" fill="#ff9100"/>
<rect x="124.91" y="151.46" width="6.15" height="5.48" fill="#ff9100"/>
<rect x="130.66" y="151.46" width="6.15" height="5.48" fill="#ff9100"/>
<rect x="136.40" y="151.46" width="6.15" height="5.48" fill="#e5ff1a"/>
<rect x="142.15" y="151.46" width="6.15" height="5.48" fill="#1affe5"/>
<rect x="147.90" y="151.46" width="6.15" height="5.48" fill="#00d4ff"/>
<rect x="153.65" y="151.46" width="6.15" height="5.48" fill="#00d4ff"/>
<rect x="159.39" y="151.46" width="6.15" height="5.48" fill="#004dff"/>
<rect x="165.14" y="151.46" width="6.15" height="5.48" fill="#0090ff"/>
<rect x="170.89" y="151.46" width="6.15" height="5.48" fill="#1affe5"/>
<rect x="176.63" y="151.46" width="6.15" height="5.48" fill="#5effa2"/>
<rect x="182.38" y="151.46" width="6.15" height="5.48" fill="#5effa2"/>
<rect x="188.13" y="151.46" width="6.15" height="5.48" fill="#5effa2"/>
<rect x="193.88" y="151.46" width="6.15" height="5.48" fill="#b3ff4c"/>
<rect x="199.62" y="151.46" width="6.15" height="5.48" fill="#5effa2"/>
<rect x="205.37" y="151.46" width="6.15" height="5.48" fill="#1affe5"/>
<rect x="211.12" y="151.46" width="6.15" height="5.48" fill="#1affe5"/>
<rect x="216.87" y="151.46" width="6.15" height="5.48" fill="#00d4ff"/>
<rect x="222.62" y="151.46" width="6.15" height="5.48" fill="#00d4ff"/>
<rect x="228.36" y="151.46" width="6.15" height="5.48" fill="#00d4ff"/>
<rect x="234.11" y="151.46" width="6.15" height="5.48" fill="#00d4ff"/>
<rect x="239.86" y="151.46" width="6.15" height="5.48" fill="#00d4ff"/>
<rect x="245.61" y="151.46" width="6.15" height="5.48" fill="#00d4ff"/>
<rect x="251.35" y="151.46" width="6.15" height="5.48" fill="#1affe5"/>
<rect x="257.10" y="151.46" width="6.15" height="5.48" fill="#1affe5"/>
<rect x="21.45" y="156.54" width="6.15" height="5.48" fill="#5effa2"/>
<rect x="27.20" y="156.54" width="6.15" height="5.48" fill="#5effa2"/>
<rect x="32.95" y="156.54" width="6.15" height="5.48" fill="#5effa2"/>
<rect x="38.70" y="156.54" width="6.15" height="5.48" fill="#5effa2"/>
<rect x="44.44" y="156.54" width="6.15" height="5.48" fill="#5effa2"/>
<rect x="50.19" y="156.54" width="6.15" height="5.48" fill="#5effa2"/>
<rect x="55.94" y="156.54" width="6.15" height="5.48" fill="#5effa2"/>
<rect x="61.69" y="156.54" width="6.15" height="5.48" fill="#5effa2"/>
<rect x="67.43" y="156.54" width="6.15" height="5.48" fill="#b3ff4c"/>
<rect x="73.18" y="156.54" width="6.15" height="5.48" fill="#b3ff4c"/>
<rect x="78.93" y="156.54" width="6.15" height="5.48" fill="#b3ff4c"/>
<rect x="84.68" y="156.54" width="6.15" height="5.48" fill="#b3ff4c"/>
<rect x="90.42" y="156.54" width="6.15" height="5.48" fill="#e5ff1a"/>
<rect x="96.17" y="156.54" width="6.15" height="5.48" fill="#ffd500"/>
<rect x="101.92" y="156.54" width="6.15" height="5.48" fill="#ff4c00"/>
<rect x="107.67" y="156.54" width="6.15" height="5.48" fill="#ff0800"/>
<rect x="113.41" y="156.54" width="6.15" height="5.48" fill="#ff4c00"/>
<rect x="119.16" y="156.54" width="6.15" height="5.48" fill="#ff9100"/>
<rect x="124.91" y="156.54" width="6.15" height="5.48" fill="#ff9100"/>
<rect x="130.66" y="156.54" width="6.15" height="5.48" fill="#ff9100"/>
<rect x="136.40" y="156.54" width="6.15" height="5.48" fill="#e5ff1a"/>
<rect x="142.15" y="156.54" width="6.15" height="5.48" fill="#e5ff1a"/>
<rect x="147.90" y="156.54" width="6.15" height="5.48" fill="#e5ff1a"/>
<rect x="153.65" y="156.54" width="6.15" height="5.48" fill="#e5ff1a"/>
<rect x="159.39" y="156.54" width="6.15" height="5.48" fill="#1affe5"/>
<rect x="165.14" y="156.54" width="6.15" height="5.48" fill="#5effa2"/>
<rect x="170.89" y="156.54" width="6.15" height="5.48" fill="#5effa2"/>
<rect x="176.63" y="156.54" width="6.15" height="5.48" fill="#5effa2"/>
<rect x="182.38" y="156.54" width="6.15" height="5.48" fill="#5effa2"/>
<rect x="188.13" y="156.54" width="6.15" height="5.48" fill="#b3ff4c"/>
<rect x="193.88" y="156.54" width="6.15" height="5.48" fill="#b3ff4c"/>
<rect x="199.62" y="156.54" width="6.15" height="5.48" fill="#b3ff4c"/>
<rect x="205.37" y="156.54" width="6.15" height="5.48" fill="#b3ff4c"/>
<rect x="211.12" y="156.54" width="6.15" height="5.48" fill="#b3ff4c"/>
<rect x="216.87" y="156.54" width="6.15" height="5.48" fill="#e5ff1a"/>
<rect x="222.62" y="156.54" width="6.15" height="5.48" fill="#e5ff1a"/>
<rect x="228.36" y="156.54" width="6.15" height="5.48" fill="#ffd500"/>
<rect x="234.11" y="156.54" width="6.15" height="5.48" fill="#e5ff1a"/>
<rect x="239.86" y="156.54" width="6.15" height="5.48" fill="#e5ff1a"/>
<rect x="245.61" y="156.54" width="6.15" height="5.48" fill="#e5ff1a"/>
<rect x="251.35" y="156.54" width="6.15" height="5.48" fill="#b3ff4c"/>
<rect x="257.10" y="156.54" width="6.15" height="5.48" fill="#b3ff4c"/>
<rect x="21.45" y="161.61" width="6.15" height="5.48" fill="#ff9100"/>
<rect x="27.20" y="161.61" width="6.15" height="5.48" fill="#ff9100"/>
<rect x="32.95" y="161.61" width="6.15" height="5.48" fill="#ff9100"/>
<rect x="38.70" y="161.61" width="6.15" height="5.48" fill="#ff9100"/>
<rect x="44.44" y="161.61" width="6.15" height="5.48" fill="#ffd500"/>
<rect x="50.19" y="161.61" width="6.15" height="5.48" fill="#b3ff4c"/>
<rect x="55.94" y="161.61" width="6.15" height="5.48" fill="#5effa2"/>
<rect x="61.69" y="161.61" width="6.15" height="5.48" fill="#5effa2"/>
<rect x="67.43" y="161.61" width="6.15" height="5.48" fill="#b3ff4c"/>
<rect x="73.18" y="161.61" width="6.15" height="5.48" fill="#b3ff4c"/>
<rect x="78.93" y="161.61" width="6.15" height="5.48" fill="#b3ff4c"/>
<rect x="84.68" y="161.61" width="6.15" height="5.48" fill="#b3ff4c"/>
<rect x="90.42" y="161.61" width="6.15" height="5.48" fill="#b3ff4c"/>
<rect x="96.17" y="161.61" width="6.15" height="5.48" fill="#e5ff1a"/>
<rect x="101.92" y="161.61" width="6.15" height="5.48" fill="#ff9100"/>
<rect x="107.67" y="161.61" width="6.15" height="5.48" fill="#ff4c00"/>
<rect x="113.41" y="161.61" width="6.15" height="5.48" fill="#ff9100"/>
<rect x="119.16" y="161.61" width="6.15" height="5.48" fill="#ffd500"/>
<rect x="124.91" y="161.61" width="6.15" height="5.48" fill="#ffd500"/>
<rect x="130.66" y="161.61" width="6.15" height="5.48" fill="#ffd500"/>
<rect x="136.40" y="161.61" width="6.15" height="5.48" fill="#e5ff1a"/>
<rect x="142.15" y="161.61" width="6.15" height="5.48" fill="#ffd500"/>
<rect x="147.90" y="161.61" width="6.15" height="5.48" fill="#ff9100"/>
<rect x="153.65" y="161.61" width="6.15" height="5.48" fill="#ff9100"/>
<rect x="159.39" y="161.61" width="6.15" height="5.48" fill="#ffd500"/>
<rect x="165.14" y="161.61" width="6.15" height="5.48" fill="#b3ff4c"/>
<rect x="170.89" y="161.61" width="6.15" height="5.48" fill="#5effa2"/>
<rect x="176.63" y="161.61" width="6.15" height="5.48" fill="#5effa2"/>
<rect x="182.38" y="161.61" width="6.15" height="5.48" fill="#5effa2"/>
<rect x="188.13" y="161.61" width="6.15" height="5.48" fill="#b3ff4c"/>
<rect x="193.88" y="161.61" width="6.15" height="5.48" fill="#b3ff4c"/>
<rect x="199.62" y="161.61" width="6.15" height="5.48" fill="#5effa2"/>
<rect x="205.37" y="161.61" width="6.15" height="5.48" fill="#5effa2"/>
<rect x="211.12" y="161.61" width="6.15" height="5.48" fill="#b3ff4c"/>
<rect x="216.87" y="161.61" width="6.15" height="5.48" fill="#e5ff1a"/>
<rect x="222.62" y="161.61" width="6.15" height="5.48" fill="#ff4c00"/>
<rect x="228.36" y="161.61" width="6.15" height="5.48" fill="#ff4c00"/>
<rect x="234.11" y="161.61" width="6.15" height="5.48" fill="#ff4c00"/>
<rect x="239.86" y="161.61" width="6.15" height="5.48" fill="#ff4c00"/>
<rect x="245.61" y="161.61" width="6.15" height="5.48" fill="#ff9100"/>
<rect x="251.35" y="161.61" width="6.15" height="5.48" fill="#ffd500"/>
<rect x="257.10" y="161.61" width="6.15" height="5.48" fill="#ffd500"/>
<rect x="21.45" y="166.69" width="6.15" height="5.48" fill="#ff0800"/>
<rect x="27.20" y="166.69" width="6.15" height="5.48" fill="#ff0800"/>
<rect x="32.95" y="166.69" width="6.15" height="5.48" fill="#ff0800"/>
<rect x="38.70" y="166.69" width="6.15" height="5.48" fill="#ff0800"/>
<rect x="44.44" y="166.69" width="6.15" height="5.48" fill="#ff4c00"/>
<rect x="50.19" y="166.69" width="6.15" height="5.48" fill="#e5ff1a"/>
<rect x="55.94" y="166.69" width="6.15" height="5.48" fill="#b3ff4c"/>
<rect x="61.69" y="166.69" width="6.15" height="5.48" fill="#5effa2"/>
<rect x="67.43" y="166.69" width="6.15" height="5.48" fill="#b3ff4c"/>
<rect x="73.18" y="166.69" width="6.15" height="5.48" fill="#b3ff4c"/>
<rect x="78.93" y="166.69" width="6.15" height="5.48" fill="#b3ff4c"/>
<rect x="84.68" y="166.69" width="6.15" height="5.48" fill="#b3ff4c"/>
<rect x="90.42" y="166.69" width="6.15" height="5.48" fill="#b3ff4c"/>
<rect x="96.17" y="166.69" width="6.15" height="5.48" fill="#e5ff1a"/>
<rect x="101.92" y="166.69" width="6.15" height="5.48" fill="#ffd500"/>
<rect x="107.67" y="166.69" width="6.15" height="5.48" fill="#ff9100"/>
<rect x="113.41" y="166.69" width="6.15" height="5.48" fill="#ffd500"/>
<rect x="119.16" y="166.69" width="6.15" height="5.48" fill="#e5ff1a"/>
<rect x="124.91" y="166.69" width="6.15" height="5.48" fill="#e5ff1a"/>
<rect x="130.66" y="166.69" width="6.15" height="5.48" fill="#e5ff1a"/>
<rect x="136.40" y="166.69" width="6.15" height="5.48" fill="#e5ff1a"/>
<rect x="142.15" y="166.69" width="6.15" height="5.48" fill="#ff4c00"/>
<rect x="147.90" y="166.69" width="6.15" height="5.48" fill="#ff0800"/>
<rect x="153.65" y="166.69" width="6.15" height="5.48" fill="#ff0800"/>
<rect x="159.39" y="166.69" width="6.15" height="5.48" fill="#ff4c00"/>
<rect x="165.14" y="166.69" width="6.15" height="5.48" fill="#ffd500"/>
<rect x="170.89" y="166.69" width="6.15" height="5.48" fill="#5effa2"/>
<rect x="176.63" y="166.69" width="6.15" height="5.48" fill="#5effa2"/>
<rect x="182.38" y="166.69" width="6.15" height="5.48" fill="#b3ff4c"/>
<rect x="188.13" y="166.69" width="6.15" height="5.48" fill="#b3ff4c"/>
<rect x="193.88" y="166.69" width="6.15" height="5.48" fill="#b3ff4c"/>
<rect x="199.62" y="166.69" width="6.15" height="5.48" fill="#b3ff4c"/>
<rect x="205.37" y="166.69" width="6.15" height="5.48" fill="#b3ff4c"/>
<rect x="211.12" y="166.69" width="6.15" height="5.48" fill="#e5ff1a"/>
<rect x="216.87" y="166.69" width="6.15" height="5.48" fill="#e5ff1a"/>
<rect x="222.62" y="166.69" width="6.15" height="5.48" fill="#ff9100"/>
<rect x="228.36" y="166.69" width="6.15" height="5.48" fill="#ff9100"/>
<rect x="234.11" y="166.69" width="6.15" height="5.48" fill="#ff9100"/>
<rect x="239.86" y="166.69" width="6.15" height="5.48" fill="#ff9100"/>
<rect x="245.61" y="166.69" width="6.15" height="5.48" fill="#ff9100"/>
<rect x="251.35" y="166.69" width="6.15" height="5.48" fill="#e5ff1a"/>
<rect x="257.10" y="166.69" width="6.15" height="5.48" fill="#e5ff1a"/>
<rect x="21.45" y="171.77" width="6.15" height="5.48" fill="#c30000"/>
<rect x="27.20" y="171.77" width="6.15" height="5.48" fill="#c30000"/>
<rect x="32.95" y="171.77" width="6.15" height="5.48" fill="#c30000"/>
<rect x="38.70" y="171.77" width="6.15" height="5.48" fill="#ff0800"/>
<rect x="44.44" y="171.77" width="6.15" height="5.48" fill="#ff4c00"/>
<rect x="50.19" y="171.77" width="6.15" height="5.48" fill="#ffd500"/>
<rect x="55.94" y="171.77" width="6.15" height="5.48" fill="#b3ff4c"/>
<rect x="61.69" y="171.77" width="6.15" height="5.48" fill="#b3ff4c"/>
<rect x="67.43" y="171.77" width="6.15" height="5.48" fill="#e5ff1a"/>
<rect x="73.18" y="171.77" width="6.15" height="5.48" fill="#e5ff1a"/>
<rect x="78.93" y="171.77" width="6.15" height="5.48" fill="#e5ff1a"/>
<rect x="84.68" y="171.77" width="6.15" height="5.48" fill="#b3ff4c"/>
<rect x="90.42" y="171.77" width="6.15" height="5.48" fill="#b3ff4c"/>
<rect x="96.17" y="171.77" width="6.15" height="5.48" fill="#b3ff4c"/>
<rect x="101.92" y="171.77" width="6.15" height="5.48" fill="#e5ff1a"/>
<rect x="107.67" y="171.77" width="6.15" height="5.48" fill="#e5ff1a"/>
<rect x="113.41" y="171.77" width="6.15" height="5.48" fill="#b3ff4c"/>
<rect x="119.16" y="171.77" width="6.15" height="5.48" fill="#b3ff4c"/>
<rect x="124.91" y="171.77" width="6.15" height="5.48" fill="#b3ff4c"/>
<rect x="130.66" y="171.77" width="6.15" height="5.48" fill="#e5ff1a"/>
<rect x="136.40" y="171.77" width="6.15" height="5.48" fill="#ffd500"/>
<rect x="142.15" y="171.77" width="6.15" height="5.48" fill="#ff0800"/>
<rect x="147.90" y="171.77" width="6.15" height="5.48" fill="#c30000"/>
<rect x="153.65" y="171.77" width="6.15" height="5.48" fill="#c30000"/>
<rect x="159.39" y="171.77" width="6.15" height="5.48" fill="#ff0800"/>
<rect x="165.14" y="171.77" width="6.15" height="5.48" fill="#ffd500"/>
<rect x="170.89" y="171.77" width="6.15" height="5.48" fill="#b3ff4c"/>
<rect x="176.63" y="171.77" width="6.15" height="5.48" fill="#b3ff4c"/>
<rect x="182.38" y="171.77" width="6.15" height="5.48" fill="#b3ff4c"/>
<rect x="188.13" y="171.77" width="6.15" height="5.48" fill="#e5ff1a"/>
<rect x="193.88" y="171.77" width="6.15" height="5.48" fill="#e5ff1a"/>
<rect x="199.62" y="171.77" width="6.15" height="5.48" fill="#e5ff1a"/>
<rect x="205.37" y="171.77" width="6.15" height="5.48" fill="#b3ff4c"/>
<rect x="211.12" y="171.77" width="6.15" height="5.48" fill="#e5ff1a"/>
<rect x="216.87" y="171.77" width="6.15" height="5.48" fill="#e5ff1a"/>
<rect x="222.62" y="171.77" width="6.15" height="5.48" fill="#e5ff1a"/>
<rect x="228.36" y="171.77" width="6.15" height="5.48" fill="#e5ff1a"/>
<rect x="234.11" y="171.77" width="6.15" height="5.48" fill="#b3ff4c"/>
<rect x="239.86" y="171.77" width="6.15" height="5.48" fill="#b3ff4c"/>
<rect x="245.61" y="171.77" width="6.15" height="5.48" fill="#b3ff4c"/>
<rect x="251.35" y="171.77" width="6.15" height="5.48" fill="#5effa2"/>
<rect x="257.10" y="171.77" width="6.15" height="5.48" fill="#5effa2"/>
<rect x="21.45" y="176.85" width="6.15" height="5.48" fill="#c30000"/>
<rect x="27.20" y="176.85" width="6.15" height="5.48" fill="#c30000"/>
<rect x="32.95" y="176.85" width="6.15" height="5.48" fill="#c30000"/>
<rect x="38.70" y="176.85" width="6.15" height="5.48" fill="#ff0800"/>
<rect x="44.44" y="176.85" width="6.15" height="5.48" fill="#ff4c00"/>
<rect x="50.19" y="176.85" width="6.15" height="5.48" fill="#ffd500"/>
<rect x="55.94" y="176.85" width="6.15" height="5.48" fill="#b3ff4c"/>
<rect x="61.69" y="176.85" width="6.15" height="5.48" fill="#e5ff1a"/>
<rect x="67.43" y="176.85" width="6.15" height="5.48" fill="#e5ff1a"/>
<rect x="73.18" y="176.85" width="6.15" height="5.48" fill="#e5ff1a"/>
<rect x="78.93" y="176.85" width="6.15" height="5.48" fill="#e5ff1a"/>
<rect x="84.68" y="176.85" width="6.15" height="5.48" fill="#b3ff4c"/>
<rect x="90.42" y="176.85" width="6.15" height="5.48" fill="#b3ff4c"/>
<rect x="96.17" y="176.85" width="6.15" height="5.48" fill="#b3ff4c"/>
<rect x="101.92" y="176.85" width="6.15" height="5.48" fill="#b3ff4c"/>
<rect x="107.67" y="176.85" width="6.15" height="5.48" fill="#b3ff4c"/>
<rect x="113.41" y="176.85" width="6.15" height="5.48" fill="#b3ff4c"/>
<rect x="119.16" y="176.85" width="6.15" height="5.48" fill="#b3ff4c"/>
<rect x="124.91" y="176.85" width="6.15" height="5.48" fill="#b3ff4c"/>
<rect x="130.66" y="176.85" width="6.15" height="5.48" fill="#b3ff4c"/>
<rect x="136.40" y="176.85" width="6.15" height="5.48" fill="#e5ff1a"/>
<rect x="142.15" y="176.85" width="6.15" height="5.48" fill="#ff0800"/>
<rect x="147.90" y="176.85" width="6.15" height="5.48" fill="#c30000"/>
<rect x="153.65" y="176.85" width="6.15" height="5.48" fill="#c30000"/>
<rect x="159.39" y="176.85" width="6.15" height="5.48" fill="#ff0800"/>
<rect x="165.14" y="176.85" width="6.15" height="5.48" fill="#ff9100"/>
<rect x="170.89" y="176.85" width="6.15" height="5.48" fill="#b3ff4c"/>
<rect x="176.63" y="176.85" width="6.15" height="5.48" fill="#b3ff4c"/>
<rect x="182.38" y="176.85" width="6.15" height="5.48" fill="#b3ff4c"/>
<rect x="188.13" y="176.85" width="6.15" height="5.48" fill="#e5ff1a"/>
<rect x="193.88" y="176.85" width="6.15" height="5.48" fill="#e5ff1a"/>
<rect x="199.62" y="176.85" width="6.15" height="5.48" fill="#b3ff4c"/>
<rect x="205.37" y="176.85" width="6.15" height="5.48" fill="#e5ff1a"/>
<rect x="211.12" y="176.85" width="6.15" height="5.48" fill="#e5ff1a"/>
<rect x="216.87" y="176.85" width="6.15" height="5.48" fill="#e5ff1a"/>
<rect x="222.62" y="176.85" width="6.15" height="5.48" fill="#b3ff4c"/>
<rect x="228.36" y="176.85" width="6.15" height="5.48" fill="#b3ff4c"/>
<rect x="234.11" y="176.85" width="6.15" height="5.48" fill="#b3ff4c"/>
<rect x="239.86" y="176.85" width="6.15" height="5.48" fill="#b3ff4c"/>
<rect x="245.61" y="176.85" width="6.15" height="5.48" fill="#b3ff4c"/>
<rect x="251.35" y="176.85" width="6.15" height="5.48" fill="#5effa2"/>
<rect x="257.10" y="176.85" width="6.15" height="5.48" fill="#5effa2"/>
<rect x="21.45" y="181.92" width="6.15" height="5.48" fill="#ff0800"/>
<rect x="27.20" y="181.92" width="6.15" height="5.48" fill="#ff0800"/>
<rect x="32.95" y="181.92" width="6.15" height="5.48" fill="#ff0800"/>
<rect x="38.70" y="181.92" width="6.15" height="5.48" fill="#ff0800"/>
<rect x="44.44" y="181.92" width="6.15" height="5.48" fill="#ff4c00"/>
<rect x="50.19" y="181.92" width="6.15" height="5.48" fill="#ffd500"/>
<rect x="55.94" y="181.92" width="6.15" height="5.48" fill="#e5ff1a"/>
<rect x="61.69" y="181.92" width="6.15" height="5.48" fill="#e5ff1a"/>
<rect x="67.43" y="181.92" width="6.15" height="5.48" fill="#e5ff1a"/>
<rect x="73.18" y="181.92" width="6.15" height="5.48" fill="#e5ff1a"/>
<rect x="78.93" y="181.92" width="6.15" height="5.48" fill="#e5ff1a"/>
<rect x="84.68" y="181.92" width="6.15" height="5.48" fill="#e5ff1a"/>
<rect x="90.42" y="181.92" width="6.15" height="5.48" fill="#b3ff4c"/>
<rect x="96.17" y="181.92" width="6.15" height="5.48" fill="#b3ff4c"/>
<rect x="101.92" y="181.92" width="6.15" height="5.48" fill="#5effa2"/>
<rect x="107.67" y="181.92" width="6.15" height="5.48" fill="#1affe5"/>
<rect x="113.41" y="181.92" width="6.15" height="5.48" fill="#1affe5"/>
<rect x="119.16" y="181.92" width="6.15" height="5.48" fill="#1affe5"/>
<rect x="124.91" y="181.92" width="6.15" height="5.48" fill="#1affe5"/>
<rect x="130.66" y="181.92" width="6.15" height="5.48" fill="#5effa2"/>
<rect x="136.40" y="181.92" width="6.15" height="5.48" fill="#b3ff4c"/>
<rect x="142.15" y="181.92" width="6.15" height="5.48" fill="#ff4c00"/>
<rect x="147.90" y="181.92" width="6.15" height="5.48" fill="#ff0800"/>
<rect x="153.65" y="181.92" width="6.15" height="5.48" fill="#ff0800"/>
<rect x="159.39" y="181.92" width="6.15" height="5.48" fill="#ff4c00"/>
<rect x="165.14" y="181.92" width="6.15" height="5.48" fill="#ffd500"/>
<rect x="170.89" y="181.92" width="6.15" height="5.48" fill="#b3ff4c"/>
<rect x="176.63" y="181.92" width="6.15" height="5.48" fill="#b3ff4c"/>
<rect x="182.38" y="181.92" width="6.15" height="5.48" fill="#b3ff4c"/>
<rect x="188.13" y="181.92" width="6.15" height="5.48" fill="#b3ff4c"/>
<rect x="193.88" y="181.92" width="6.15" height="5.48" fill="#b3ff4c"/>
<rect x="199.62" y="181.92" width="6.15" height="5.48" fill="#b3ff4c"/>
<rect x="205.37" y="181.92" width="6.15" height="5.48" fill="#b3ff4c"/>
<rect x="211.12" y="181.92" width="6.15" height="5.48" fill="#e5ff1a"/>
<rect x="216.87" y="181.92" width="6.15" height="5.48" fill="#e5ff1a"/>
<rect x="222.62" y="181.92" width="6.15" height="5.48" fill="#b3ff4c"/>
<rect x="228.36" y="181.92" width="6.15" height="5.48" fill="#b3ff4c"/>
<rect x="234.11" y="181.92" width="6.15" height="5.48" fill="#b3ff4c"/>
<rect x="239.86" y="181.92" width="6.15" height="5.48" fill="#b3ff4c"/>
<rect x="245.61" y="181.92" width="6.15" height="5.48" fill="#b3ff4c"/>
<rect x="251.35" y="181.92" width="6.15" height="5.48" fill="#5effa2"/>
<rect x="257.10" y="181.92" width="6.15" height="5.48" fill="#5effa2"/>
<rect x="21.45" y="187.00" width="6.15" height="5.48" fill="#ff0800"/>
<rect x="27.20" y="187.00" width="6.15" height="5.48" fill="#ff0800"/>
<rect x="32.95" y="187.00" width="6.15" height="5.48" fill="#ff0800"/>
<rect x="38.70" y="187.00" width="6.15" height="5.48" fill="#ff4c00"/>
<rect x="44.44" y="187.00" width="6.15" height="5.48" fill="#ff9100"/>
<rect x="50.19" y="187.00" width="6.15" height="5.48" fill="#e5ff1a"/>
<rect x="55.94" y="187.00" width="6.15" height="5.48" fill="#e5ff1a"/>
<rect x="61.69" y="187.00" width="6.15" height="5.48" fill="#e5ff1a"/>
<rect x="67.43" y="187.00" width="6.15" height="5.48" fill="#e5ff1a"/>
<rect x="73.18" y="187.00" width="6.15" height="5.48" fill="#e5ff1a"/>
<rect x="78.93" y="187.00" width="6.15" height="5.48" fill="#e5ff1a"/>
<rect x="84.68" y="187.00" width="6.15" height="5.48" fill="#e5ff1a"/>
<rect x="90.42" y="187.00" width="6.15" height="5.48" fill="#e5ff1a"/>
<rect x="96.17" y="187.00" width="6.15" height="5.48" fill="#b3ff4c"/>
<rect x="101.92" y="187.00" width="6.15" height="5.48" fill="#00d4ff"/>
<rect x="107.67" y="187.00" width="6.15" height="5.48" fill="#004dff"/>
<rect x="113.41" y="187.00" width="6.15" height="5.48" fill="#0008ff"/>
<rect x="119.16" y="187.00" width="6.15" height="5.48" fill="#0008ff"/>
<rect x="124.91" y="187.00" width="6.15" height="5.48" fill="#0008ff"/>
<rect x="130.66" y="187.00" width="6.15" height="5.48" fill="#004dff"/>
<rect x="136.40" y="187.00" width="6.15" height="5.48" fill="#1affe5"/>
<rect x="142.15" y="187.00" width="6.15" height="5.48" fill="#ffd500"/>
<rect x="147.90" y="187.00" width="6.15" height="5.48" fill="#ff9100"/>
<rect x="153.65" y="187.00" width="6.15" height="5.48" fill="#ff9100"/>
<rect x="159.39" y="187.00" width="6.15" height="5.48" fill="#ff9100"/>
<rect x="165.14" y="187.00" width="6.15" height="5.48" fill="#e5ff1a"/>
<rect x="170.89" y="187.00" width="6.15" height="5.48" fill="#b3ff4c"/>
<rect x="176.63" y="187.00" width="6.15" height="5.48" fill="#b3ff4c"/>
<rect x="182.38" y="187.00" width="6.15" height="5.48" fill="#b3ff4c"/>
<rect x="188.13" y="187.00" width="6.15" height="5.48" fill="#b3ff4c"/>
<rect x="193.88" y="187.00" width="6.15" height="5.48" fill="#b3ff4c"/>
<rect x="199.62" y="187.00" width="6.15" height="5.48" fill="#b3ff4c"/>
<rect x="205.37" y="187.00" width="6.15" height="5.48" fill="#b3ff4c"/>
<rect x="211.12" y="187.00" width="6.15" height="5.48" fill="#b3ff4c"/>
<rect x="216.87" y="187.00" width="6.15" height="5.48" fill="#e5ff1a"/>
<rect x="222.62" y="187.00" width="6.15" height="5.48" fill="#b3ff4c"/>
<rect x="228.36" y="187.00" width="6.15" height="5.48" fill="#b3ff4c"/>
<rect x="234.11" y="187.00" width="6.15" height="5.48" fill="#b3ff4c"/>
<rect x="239.86" y="187.00" width="6.15" height="5.48" fill="#b3ff4c"/>
<rect x="245.61" y="187.00" width="6.15" height="5.48" fill="#b3ff4c"/>
<rect x="251.35" y="187.00" width="6.15" height="5.48" fill="#5effa2"/>
<rect x="257.10" y="187.00" width="6.15" height="5.48" fill="#5effa2"/>
<rect x="21.45" y="192.08" width="6.15" height="5.48" fill="#ff9100"/>
<rect x="27.20" y="192.08" width="6.15" height="5.48" fill="#ff9100"/>
<rect x="32.95" y="192.08" width="6.15" height="5.48" fill="#ffd500"/>
<rect x="38.70" y="192.08" width="6.15" height="5.48" fill="#e5ff1a"/>
<rect x="44.44" y="192.08" width="6.15" height="5.48" fill="#e5ff1a"/>
<rect x="50.19" y="192.08" width="6.15" height="5.48" fill="#e5ff1a"/>
<rect x="55.94" y="192.08" width="6.15" height="5.48" fill="#e5ff1a"/>
<rect x="61.69" y="192.08" width="6.15" height="5.48" fill="#e5ff1a"/>
<rect x="67.43" y="192.08" width="6.15" height="5.48" fill="#e5ff1a"/>
<rect x="73.18" y="192.08" width="6.15" height="5.48" fill="#e5ff1a"/>
<rect x="78.93" y="192.08" width="6.15" height="5.48" fill="#e5ff1a"/>
<rect x="84.68" y="192.08" width="6.15" height="5.48" fill="#e5ff1a"/>
<rect x="90.42" y="192.08" width="6.15" height="5.48" fill="#e5ff1a"/>
<rect x="96.17" y="192.08" width="6.15" height="5.48" fill="#b3ff4c"/>
<rect x="101.92" y="192.08" width="6.15" height="5.48" fill="#00d4ff"/>
<rect x="107.67" y="192.08" width="6.15" height="5.48" fill="#0008ff"/>
<rect x="113.41" y="192.08" width="6.15" height="5.48" fill="#0008ff"/>
<rect x="119.16" y="192.08" width="6.15" height="5.48" fill="#0008ff"/>
<rect x="124.91" y="192.08" width="6.15" height="5.48" fill="#0008ff"/>
<rect x="130.66" y="192.08" width="6.15" height="5.48" fill="#0008ff"/>
<rect x="136.40" y="192.08" width="6.15" height="5.48" fill="#00d4ff"/>
<rect x="142.15" y="192.08" width="6.15" height="5.48" fill="#e5ff1a"/>
<rect x="147.90" y="192.08" width="6.15" height="5.48" fill="#e5ff1a"/>
<rect x="153.65" y="192.08" width="6.15" height="5.48" fill="#e5ff1a"/>
<rect x="159.39" y="192.08" width="6.15" height="5.48" fill="#e5ff1a"/>
<rect x="165.14" y="192.08" width="6.15" height="5.48" fill="#b3ff4c"/>
<rect x="170.89" y="192.08" width="6.15" height="5.48" fill="#b3ff4c"/>
<rect x="176.63" y="192.08" width="6.15" height="5.48" fill="#b3ff4c"/>
<rect x="182.38" y="192.08" width="6.15" height="5.48" fill="#e5ff1a"/>
<rect x="188.13" y="192.08" width="6.15" height="5.48" fill="#e5ff1a"/>
<rect x="193.88" y="192.08" width="6.15" height="5.48" fill="#e5ff1a"/>
<rect x="199.62" y="192.08" width="6.15" height="5.48" fill="#e5ff1a"/>
<rect x="205.37" y="192.08" width="6.15" height="5.48" fill="#b3ff4c"/>
<rect x="211.12" y="192.08" width="6.15" height="5.48" fill="#b3ff4c"/>
<rect x="216.87" y="192.08" width="6.15" height="5.48" fill="#b3ff4c"/>
<rect x="222.62" y="192.08" width="6.15" height="5.48" fill="#b3ff4c"/>
<rect x="228.36" y="192.08" width="6.15" height="5.48" fill="#b3ff4c"/>
<rect x="234.11" y="192.08" width="6.15" height="5.48" fill="#b3ff4c"/>
<rect x="239.86" y="192.08" width="6.15" height="5.48" fill="#b3ff4c"/>
<rect x="245.61" y="192.08" width="6.15" height="5.48" fill="#b3ff4c"/>
<rect x="251.35" y="192.08" width="6.15" height="5.48" fill="#e5ff1a"/>
<rect x="257.10" y="192.08" width="6.15" height="5.48" fill="#e5ff1a"/>
<rect x="21.45" y="197.16" width="6.15" height="5.48" fill="#b3ff4c"/>
<rect x="27.20" y="197.16" width="6.15" height="5.48" fill="#b3ff4c"/>
<rect x="32.95" y="197.16" width="6.15" height="5.48" fill="#b3ff4c"/>
<rect x="38.70" y="197.16" width="6.15" height="5.48" fill="#b3ff4c"/>
<rect x="44.44" y="197.16" width="6.15" height="5.48" fill="#b3ff4c"/>
<rect x="50.19" y="197.16" width="6.15" height="5.48" fill="#b3ff4c"/>
<rect x="55.94" y="197.16" width="6.15" height="5.48" fill="#e5ff1a"/>
<rect x="61.69" y="197.16" width="6.15" height="5.48" fill="#e5ff1a"/>
<rect x="67.43" y="197.16" width="6.15" height="5.48" fill="#e5ff1a"/>
<rect x="73.18" y="197.16" width="6.15" height="5.48" fill="#e5ff1a"/>
<rect x="78.93" y="197.16" width="6.15" height="5.48" fill="#b3ff4c"/>
<rect x="84.68" y="197.16" width="6.15" height="5.48" fill="#b3ff4c"/>
<rect x="90.42" y="197.16" width="6.15" height="5.48" fill="#b3ff4c"/>
<rect x="96.17" y="197.16" width="6.15" height="5.48" fill="#b3ff4c"/>
<rect x="101.92" y="197.16" width="6.15" height="5.48" fill="#00d4ff"/>
<rect x="107.67" y="197.16" width="6.15" height="5.48" fill="#004dff"/>
<rect x="113.41" y="197.16" width="6.15" height="5.48" fill="#0008ff"/>
<rect x="119.16" y="197.16" width="6.15" height="5.48" fill="#0008ff"/>
<rect x="124.91" y="197.16" width="6.15" height="5.48" fill="#0008ff"/>
<rect x="130.66" y="197.16" width="6.15" height="5.48" fill="#004dff"/>
<rect x="136.40" y="197.16" width="6.15" height="5.48" fill="#00d4ff"/>
<rect x="142.15" y="197.16" width="6.15" height="5.48" fill="#5effa2"/>
<rect x="147.90" y="197.16" width="6.15" height="5.48" fill="#b3ff4c"/>
<rect x="153.65" y="197.16" width="6.15" height="5.48" fill="#b3ff4c"/>
<rect x="159.39" y="197.16" width="6.15" height="5.48" fill="#b3ff4c"/>
<rect x="165.14" y="197.16" width="6.15" height="5.48" fill="#b3ff4c"/>
<rect x="170.89" y="197.16" width="6.15" height="5.48" fill="#5effa2"/>
<rect x="176.63" y="197.16" width="6.15" height="5.48" fill="#b3ff4c"/>
<rect x="182.38" y="197.16" width="6.15" height="5.48" fill="#e5ff1a"/>
<rect x="188.13" y="197.16" width="6.15" height="5.48" fill="#e5ff1a"/>
<rect x="193.88" y="197.16" width="6.15" height="5.48" fill="#e5ff1a"/>
<rect x="199.62" y="197.16" width="6.15" height="5.48" fill="#b3ff4c"/>
<rect x="205.37" y="197.16" width="6.15" height="5.48" fill="#b3ff4c"/>
<rect x="211.12" y="197.16" width="6.15" height="5.48" fill="#b3ff4c"/>
<rect x="216.87" y="197.16" width="6.15" height="5.48" fill="#b3ff4c"/>
<rect x="222.62" y="197.16" width="6.15" height="5.48" fill="#b3ff4c"/>
<rect x="228.36" y="197.16" width="6.15" height="5.48" fill="#b3ff4c"/>
<rect x="234.11" y="197.16" width="6.15" height="5.48" fill="#b3ff4c"/>
<rect x="239.86" y="197.16" width="6.15" height="5.48" fill="#b3ff4c"/>
<rect x="245.61" y="197.16" width="6.15" height="5.48" fill="#e5ff1a"/>
<rect x="251.35" y="197.16" width="6.15" height="5.48" fill="#ffd500"/>
<rect x="257.10" y="197.16" width="6.15" height="5.48" fill="#ffd500"/>
<rect x="21.45" y="202.23" width="6.15" height="5.48" fill="#5effa2"/>
<rect x="27.20" y="202.23" width="6.15" height="5.48" fill="#5effa2"/>
<rect x="32.95" y="202.23" width="6.15" height="5.48" fill="#1affe5"/>
<rect x="38.70" y="202.23" width="6.15" height="5.48" fill="#1affe5"/>
<rect x="44.44" y="202.23" width="6.15" height="5.48" fill="#1affe5"/>
<rect x="50.19" y="202.23" width="6.15" height="5.48" fill="#1affe5"/>
<rect x="55.94" y="202.23" width="6.15" height="5.48" fill="#5effa2"/>
<rect x="61.69" y="202.23" width="6.15" height="5.48" fill="#5effa2"/>
<rect x="67.43" y="202.23" width="6.15" height="5.48" fill="#b3ff4c"/>
<rect x="73.18" y="202.23" width="6.15" height="5.48" fill="#e5ff1a"/>
<rect x="78.93" y="202.23" width="6.15" height="5.48" fill="#b3ff4c"/>
<rect x="84.68" y="202.23" width="6.15" height="5.48" fill="#e5ff1a"/>
<rect x="90.42" y="202.23" width="6.15" height="5.48" fill="#b3ff4c"/>
<rect x="96.17" y="202.23" width="6.15" height="5.48" fill="#b3ff4c"/>
<rect x="101.92" y="202.23" width="6.15" height="5.48" fill="#5effa2"/>
<rect x="107.67" y="202.23" width="6.15" height="5.48" fill="#1affe5"/>
<rect x="113.41" y="202.23" width="6.15" height="5.48" fill="#1affe5"/>
<rect x="119.16" y="202.23" width="6.15" height="5.48" fill="#1affe5"/>
<rect x="124.91" y="202.23" width="6.15" height="5.48" fill="#1affe5"/>
<rect x="130.66" y="202.23" width="6.15" height="5.48" fill="#1affe5"/>
<rect x="136.40" y="202.23" width="6.15" height="5.48" fill="#5effa2"/>
<rect x="142.15" y="202.23" width="6.15" height="5.48" fill="#1affe5"/>
<rect x="147.90" y="202.23" width="6.15" height="5.48" fill="#1affe5"/>
<rect x="153.65" y="202.23" width="6.15" height="5.48" fill="#1affe5"/>
<rect x="159.39" y="202.23" width="6.15" height="5.48" fill="#1affe5"/>
<rect x="165.14" y="202.23" width="6.15" height="5.48" fill="#1affe5"/>
<rect x="170.89" y="202.23" width="6.15" height="5.48" fill="#1affe5"/>
<rect x="176.63" y="202.23" width="6.15" height="5.48" fill="#b3ff4c"/>
<rect x="182.38" y="202.23" width="6.15" height="5.48" fill="#ffd500"/>
<rect x="188.13" y="202.23" width="6.15" height="5.48" fill="#ffd500"/>
<rect x="193.88" y="202.23" width="6.15" height="5.48" fill="#e5ff1a"/>
<rect x="199.62" y="202.23" width="6.15" height="5.48" fill="#b3ff4c"/>
<rect x="205.37" y="202.23" width="6.15" height="5.48" fill="#b3ff4c"/>
<rect x="211.12" y="202.23" width="6.15" height="5.48" fill="#b3ff4c"/>
<rect x="216.87" y="202.23" width="6.15" height="5.48" fill="#b3ff4c"/>
<rect x="222.62" y="202.23" width="6.15" height="5.48" fill="#b3ff4c"/>
<rect x="228.36" y="202.23" width="6.15" height="5.48" fill="#b3ff4c"/>
<rect x="234.11" y="202.23" width="6.15" height="5.48" fill="#b3ff4c"/>
<rect x="239.86" y="202.23" width="6.15" height="5.48" fill="#b3ff4c"/>
<rect x="245.61" y="202.23" width="6.15" height="5.48" fill="#e5ff1a"/>
<rect x="251.35" y="202.23" width="6.15" height="5.48" fill="#ffd500"/>
<rect x="257.10" y="202.23" width="6.15" height="5.48" fill="#ffd500"/>
<rect x="21.45" y="207.31" width="6.15" height="5.48" fill="#00d4ff"/>
<rect x="27.20" y="207.31" width="6.15" height="5.48" fill="#00d4ff"/>
<rect x="32.95" y="207.31" width="6.15" height="5.48" fill="#0090ff"/>
<rect x="38.70" y="207.31" width="6.15" height="5.48" fill="#0090ff"/>
<rect x="44.44" y="207.31" width="6.15" height="5.48" fill="#0090ff"/>
<rect x="50.19" y="207.31" width="6.15" height="5.48" fill="#0090ff"/>
<rect x="55.94" y="207.31" width="6.15" height="5.48" fill="#00d4ff"/>
<rect x="61.69" y="207.31" width="6.15" height="5.48" fill="#00d4ff"/>
<rect x="67.43" y="207.31" width="6.15" height="5.48" fill="#00d4ff"/>
<rect x="73.18" y="207.31" width="6.15" height="5.48" fill="#5effa2"/>
<rect x="78.93" y="207.31" width="6.15" height="5.48" fill="#e5ff1a"/>
<rect x="84.68" y="207.31" width="6.15" height="5.48" fill="#e5ff1a"/>
<rect x="90.42" y="207.31" width="6.15" height="5.48" fill="#e5ff1a"/>
<rect x="96.17" y="207.31" width="6.15" height="5.48" fill="#e5ff1a"/>
<rect x="101.92" y="207.31" width="6.15" height="5.48" fill="#e5ff1a"/>
<rect x="107.67" y="207.31" width="6.15" height="5.48" fill="#e5ff1a"/>
<rect x="113.41" y="207.31" width="6.15" height="5.48" fill="#e5ff1a"/>
<rect x="119.16" y="207.31" width="6.15" height="5.48" fill="#e5ff1a"/>
<rect x="124.91" y="207.31" width="6.15" height="5.48" fill="#e5ff1a"/>
<rect x="130.66" y="207.31" width="6.15" height="5.48" fill="#e5ff1a"/>
<rect x="136.40" y="207.31" width="6.15" height="5.48" fill="#b3ff4c"/>
<rect x="142.15" y="207.31" width="6.15" height="5.48" fill="#00d4ff"/>
<rect x="147.90" y="207.31" width="6.15" height="5.48" fill="#0090ff"/>
<rect x="153.65" y="207.31" width="6.15" height="5.48" fill="#0090ff"/>
<rect x="159.39" y="207.31" width="6.15" height="5.48" fill="#0090ff"/>
<rect x="165.14" y="207.31" width="6.15" height="5.48" fill="#0090ff"/>
<rect x="170.89" y="207.31" width="6.15" height="5.48" fill="#00d4ff"/>
<rect x="176.63" y="207.31" width="6.15" height="5.48" fill="#5effa2"/>
<rect x="182.38" y="207.31" width="6.15" height="5.48" fill="#ffd500"/>
<rect x="188.13" y="207.31" width="6.15" height="5.48" fill="#e5ff1a"/>
<rect x="193.88" y="207.31" width="6.15" height="5.48" fill="#e5ff1a"/>
<rect x="199.62" y="207.31" width="6.15" height="5.48" fill="#b3ff4c"/>
<rect x="205.37" y="207.31" width="6.15" height="5.48" fill="#b3ff4c"/>
<rect x="211.12" y="207.31" width="6.15" height="5.48" fill="#b3ff4c"/>
<rect x="216.87" y="207.31" width="6.15" height="5.48" fill="#b3ff4c"/>
<rect x="222.62" y="207.31" width="6.15" height="5.48" fill="#b3ff4c"/>
<rect x="228.36" y="207.31" width="6.15" height="5.48" fill="#80ff80"/>
<rect x="234.11" y="207.31" width="6.15" height="5.48" fill="#b3ff4c"/>
<rect x="239.86" y="207.31" width="6.15" height="5.48" fill="#b3ff4c"/>
<rect x="245.61" y="207.31" width="6.15" height="5.48" fill="#e5ff1a"/>
<rect x="251.35" y="207.31" width="6.15" height="5.48" fill="#e5ff1a"/>
<rect x="257.10" y="207.31" width="6.15" height="5.48" fill="#e5ff1a"/>
<rect x="21.45" y="212.39" width="6.15" height="5.48" fill="#004dff"/>
<rect x="27.20" y="212.39" width="6.15" height="5.48" fill="#004dff"/>
<rect x="32.95" y="212.39" width="6.15" height="5.48" fill="#0008ff"/>
<rect x="38.70" y="212.39" width="6.15" height="5.48" fill="#0008ff"/>
<rect x="44.44" y="212.39" width="6.15" height="5.48" fill="#0008ff"/>
<rect x="50.19" y="212.39" width="6.15" height="5.48" fill="#0008ff"/>
<rect x="55.94" y="212.39" width="6.15" height="5.48" fill="#0008ff"/>
<rect x="61.69" y="212.39" width="6.15" height="5.48" fill="#004dff"/>
<rect x="67.43" y="212.39" width="6.15" height="5.48" fill="#004dff"/>
<rect x="73.18" y="212.39" width="6.15" height="5.48" fill="#00d4ff"/>
<rect x="78.93" y="212.39" width="6.15" height="5.48" fill="#e5ff1a"/>
<rect x="84.68" y="212.39" width="6.15" height="5.48" fill="#e5ff1a"/>
<rect x="90.42" y="212.39" width="6.15" height="5.48" fill="#e5ff1a"/>
<rect x="96.17" y="212.39" width="6.15" height="5.48" fill="#e5ff1a"/>
<rect x="101.92" y="212.39" width="6.15" height="5.48" fill="#ffd500"/>
<rect x="107.67" y="212.39" width="6.15" height="5.48" fill="#ffd500"/>
<rect x="113.41" y="212.39" width="6.15" height="5.48" fill="#ffd500"/>
<rect x="119.16" y="212.39" width="6.15" height="5.48" fill="#ffd500"/>
<rect x="124.91" y="212.39" width="6.15" height="5.48" fill="#ffd500"/>
<rect x="130.66" y="212.39" width="6.15" height="5.48" fill="#ffd500"/>
<rect x="136.40" y="212.39" width="6.15" height="5.48" fill="#b3ff4c"/>
<rect x="142.15" y="212.39" width="6.15" height="5.48" fill="#0090ff"/>
<rect x="147.90" y="212.39" width="6.15" height="5.48" fill="#004dff"/>
<rect x="153.65" y="212.39" width="6.15" height="5.48" fill="#004dff"/>
<rect x="159.39" y="212.39" width="6.15" height="5.48" fill="#004dff"/>
<rect x="165.14" y="212.39" width="6.15" height="5.48" fill="#004dff"/>
<rect x="170.89" y="212.39" width="6.15" height="5.48" fill="#004dff"/>
<rect x="176.63" y="212.39" width="6.15" height="5.48" fill="#00d4ff"/>
<rect x="182.38" y="212.39" width="6.15" height="5.48" fill="#e5ff1a"/>
<rect x="188.13" y="212.39" width="6.15" height="5.48" fill="#e5ff1a"/>
<rect x="193.88" y="212.39" width="6.15" height="5.48" fill="#e5ff1a"/>
<rect x="199.62" y="212.39" width="6.15" height="5.48" fill="#b3ff4c"/>
<rect x="205.37" y="212.39" width="6.15" height="5.48" fill="#b3ff4c"/>
<rect x="211.12" y="212.39" width="6.15" height="5.48" fill="#80ff80"/>
<rect x="216.87" y="212.39" width="6.15" height="5.48" fill="#80ff80"/>
<rect x="222.62" y="212.39" width="6.15" height="5.48" fill="#80ff80"/>
<rect x="228.36" y="212.39" width="6.15" height="5.48" fill="#80ff80"/>
<rect x="234.11" y="212.39" width="6.15" height="5.48" fill="#b3ff4c"/>
<rect x="239.86" y="212.39" width="6.15" height="5.48" fill="#e5ff1a"/>
<rect x="245.61" y="212.39" width="6.15" height="5.48" fill="#e5ff1a"/>
<rect x="251.35" y="212.39" width="6.15" height="5.48" fill="#e5ff1a"/>
<rect x="257.10" y="212.39" width="6.15" height="5.48" fill="#e5ff1a"/>
<rect x="21.45" y="217.47" width="6.15" height="5.48" fill="#004dff"/>
<rect x="27.20" y="217.47" width="6.15" height="5.48" fill="#004dff"/>
<rect x="32.95" y="217.47" width="6.15" height="5.48" fill="#0008ff"/>
<rect x="38.70" y="217.47" width="6.15" height="5.48" fill="#0008ff"/>
<rect x="44.44" y="217.47" width="6.15" height="5.48" fill="#0008ff"/>
<rect x="50.19" y="217.47" width="6.15" height="5.48" fill="#0008ff"/>
<rect x="55.94" y="217.47" width="6.15" height="5.48" fill="#0008ff"/>
<rect x="61.69" y="217.47" width="6.15" height="5.48" fill="#0008ff"/>
<rect x="67.43" y="217.47" width="6.15" height="5.48" fill="#0008ff"/>
<rect x="73.18" y="217.47" width="6.15" height="5.48" fill="#00d4ff"/>
<rect x="78.93" y="217.47" width="6.15" height="5.48" fill="#e5ff1a"/>
<rect x="84.68" y="217.47" width="6.15" height="5.48" fill="#e5ff1a"/>
<rect x="90.42" y="217.47" width="6.15" height="5.48" fill="#e5ff1a"/>
<rect x="96.17" y="217.47" width="6.15" height="5.48" fill="#ffd500"/>
<rect x="101.92" y="217.47" width="6.15" height="5.48" fill="#ff9100"/>
<rect x="107.67" y="217.47" width="6.15" height="5.48" fill="#ff0800"/>
<rect x="113.41" y="217.47" width="6.15" height="5.48" fill="#ff0800"/>
<rect x="119.16" y="217.47" width="6.15" height="5.48" fill="#ff0800"/>
<rect x="124.91" y="217.47" width="6.15" height="5.48" fill="#ff4c00"/>
<rect x="130.66" y="217.47" width="6.15" height="5.48" fill="#ff9100"/>
<rect x="136.40" y="217.47" width="6.15" height="5.48" fill="#b3ff4c"/>
<rect x="142.15" y="217.47" width="6.15" height="5.48" fill="#004dff"/>
<rect x="147.90" y="217.47" width="6.15" height="5.48" fill="#0008ff"/>
<rect x="153.65" y="217.47" width="6.15" height="5.48" fill="#0008ff"/>
<rect x="159.39" y="217.47" width="6.15" height="5.48" fill="#0008ff"/>
<rect x="165.14" y="217.47" width="6.15" height="5.48" fill="#0008ff"/>
<rect x="170.89" y="217.47" width="6.15" height="5.48" fill="#0008ff"/>
<rect x="176.63" y="217.47" width="6.15" height="5.48" fill="#00d4ff"/>
<rect x="182.38" y="217.47" width="6.15" height="5.48" fill="#b3ff4c"/>
<rect x="188.13" y="217.47" width="6.15" height="5.48" fill="#e5ff1a"/>
<rect x="193.88" y="217.47" width="6.15" height="5.48" fill="#e5ff1a"/>
<rect x="199.62" y="217.47" width="6.15" height="5.48" fill="#b3ff4c"/>
<rect x="205.37" y="217.47" width="6.15" height="5.48" fill="#b3ff4c"/>
<rect x="211.12" y="217.47" width="6.15" height="5.48" fill="#80ff80"/>
<rect x="216.87" y="217.47" width="6.15" height="5.48" fill="#80ff80"/>
<rect x="222.62" y="217.47" width="6.15" height="5.48" fill="#80ff80"/>
<rect x="228.36" y="217.47" width="6.15" height="5.48" fill="#b3ff4c"/>
<rect x="234.11" y="217.47" width="6.15" height="5.48" fill="#e5ff1a"/>
<rect x="239.86" y="217.47" width="6.15" height="5.48" fill="#ff9100"/>
<rect x="245.61" y="217.47" width="6.15" height="5.48" fill="#ffd500"/>
<rect x="251.35" y="217.47" width="6.15" height="5.48" fill="#e5ff1a"/>
<rect x="257.10" y="217.47" width="6.15" height="5.48" fill="#e5ff1a"/>
<rect x="21.45" y="222.54" width="6.15" height="5.48" fill="#004dff"/>
<rect x="27.20" y="222.54" width="6.15" height="5.48" fill="#004dff"/>
<rect x="32.95" y="222.54" width="6.15" height="5.48" fill="#0008ff"/>
<rect x="38.70" y="222.54" width="6.15" height="5.48" fill="#0008ff"/>
<rect x="44.44" y="222.54" width="6.15" height="5.48" fill="#0008ff"/>
<rect x="50.19" y="222.54" width="6.15" height="5.48" fill="#0008ff"/>
<rect x="55.94" y="222.54" width="6.15" height="5.48" fill="#0008ff"/>
<rect x="61.69" y="222.54" width="6.15" height="5.48" fill="#0008ff"/>
<rect x="67.43" y="222.54" width="6.15" height="5.48" fill="#0008ff"/>
<rect x="73.18" y="222.54" width="6.15" height="5.48" fill="#00d4ff"/>
<rect x="78.93" y="222.54" width="6.15" height="5.48" fill="#e5ff1a"/>
<rect x="84.68" y="222.54" width="6.15" height="5.48" fill="#e5ff1a"/>
<rect x="90.42" y="222.54" width="6.15" height="5.48" fill="#e5ff1a"/>
<rect x="96.17" y="222.54" width="6.15" height="5.48" fill="#ffd500"/>
<rect x="101.92" y="222.54" width="6.15" height="5.48" fill="#ff9100"/>
<rect x="107.67" y="222.54" width="6.15" height="5.48" fill="#ff0800"/>
<rect x="113.41" y="222.54" width="6.15" height="5.48" fill="#ff0800"/>
<rect x="119.16" y="222.54" width="6.15" height="5.48" fill="#ff0800"/>
<rect x="124.91" y="222.54" width="6.15" height="5.48" fill="#ff4c00"/>
<rect x="130.66" y="222.54" width="6.15" height="5.48" fill="#ff9100"/>
<rect x="136.40" y="222.54" width="6.15" height="5.48" fill="#b3ff4c"/>
<rect x="142.15" y="222.54" width="6.15" height="5.48" fill="#004dff"/>
<rect x="147.90" y="222.54" width="6.15" height="5.48" fill="#0008ff"/>
<rect x="153.65" y="222.54" width="6.15" height="5.48" fill="#0008ff"/>
<rect x="159.39" y="222.54" width="6.15" height="5.48" fill="#0008ff"/>
<rect x="165.14" y="222.54" width="6.15" height="5.48" fill="#0008ff"/>
<rect x="170.89" y="222.54" width="6.15" height="5.48" fill="#0008ff"/>
<rect x="176.63" y="222.54" width="6.15" height="5.48" fill="#00d4ff"/>
<rect x="182.38" y="222.54" width="6.15" height="5.48" fill="#b3ff4c"/>
<rect x="188.13" y="222.54" width="6.15" height="5.48" fill="#e5ff1a"/>
<rect x="193.88" y="222.54" width="6.15" height="5.48" fill="#e5ff1a"/>
<rect x="199.62" y="222.54" width="6.15" height="5.48" fill="#b3ff4c"/>
<rect x="205.37" y="222.54" width="6.15" height="5.48" fill="#b3ff4c"/>
<rect x="211.12" y="222.54" width="6.15" height="5.48" fill="#80ff80"/>
<rect x="216.87" y="222.54" width="6.15" height="5.48" fill="#80ff80"/>
<rect x="222.62" y="222.54" width="6.15" height="5.48" fill="#80ff80"/>
<rect x="228.36" y="222.54" width="6.15" height="5.48" fill="#b3ff4c"/>
<rect x="234.11" y="222.54" width="6.15" height="5.48" fill="#ffd500"/>
<rect x="239.86" y="222.54" width="6.15" height="5.48" fill="#ff4c00"/>
<rect x="245.61" y="222.54" width="6.15" height="5.48" fill="#ff9100"/>
<rect x="251.35" y="222.54" width="6.15" height="5.48" fill="#e5ff1a"/>
<rect x="257.10" y="222.54" width="6.15" height="5.48" fill="#e5ff1a"/>
<rect x="21.45" y="227.62" width="6.15" height="5.48" fill="#004dff"/>
<rect x="27.20" y="227.62" width="6.15" height="5.48" fill="#004dff"/>
<rect x="32.95" y="227.62" width="6.15" height="5.48" fill="#0008ff"/>
<rect x="38.70" y="227.62" width="6.15" height="5.48" fill="#0008ff"/>
<rect x="44.44" y="227.62" width="6.15" height="5.48" fill="#0008ff"/>
<rect x="50.19" y="227.62" width="6.15" height="5.48" fill="#0008ff"/>
<rect x="55.94" y="227.62" width="6.15" height="5.48" fill="#0008ff"/>
<rect x="61.69" y="227.62" width="6.15" height="5.48" fill="#0008ff"/>
<rect x="67.43" y="227.62" width="6.15" height="5.48" fill="#0008ff"/>
<rect x="73.18" y="227.62" width="6.15" height="5.48" fill="#00d4ff"/>
<rect x="78.93" y="227.62" width="6.15" height="5.48" fill="#e5ff1a"/>
<rect x="84.68" y="227.62" width="6.15" height="5.48" fill="#e5ff1a"/>
<rect x="90.42" y="227.62" width="6.15" height="5.48" fill="#e5ff1a"/>
<rect x="96.17" y="227.62" width="6.15" height="5.48" fill="#ffd500"/>
<rect x="101.92" y="227.62" width="6.15" height="5.48" fill="#ff9100"/>
<rect x="107.67" y="227.62" width="6.15" height="5.48" fill="#ff0800"/>
<rect x="113.41" y="227.62" width="6.15" height="5.48" fill="#c30000"/>
<rect x="119.16" y="227.62" width="6.15" height="5.48" fill="#ff0800"/>
<rect x="124.91" y="227.62" width="6.15" height="5.48" fill="#ff4c00"/>
<rect x="130.66" y="227.62" width="6.15" height="5.48" fill="#ff9100"/>
<rect x="136.40" y="227.62" width="6.15" height="5.48" fill="#b3ff4c"/>
<rect x="142.15" y="227.62" width="6.15" height="5.48" fill="#0090ff"/>
<rect x="147.90" y="227.62" width="6.15" height="5.48" fill="#0008ff"/>
<rect x="153.65" y="227.62" width="6.15" height="5.48" fill="#0008ff"/>
<rect x="159.39" y="227.62" width="6.15" height="5.48" fill="#0008ff"/>
<rect x="165.14" y="227.62" width="6.15" height="5.48" fill="#0008ff"/>
<rect x="170.89" y="227.62" width="6.15" height="5.48" fill="#0008ff"/>
<rect x="176.63" y="227.62" width="6.15" height="5.48" fill="#00d4ff"/>
<rect x="182.38" y="227.62" width="6.15" height="5.48" fill="#b3ff4c"/>
<rect x="188.13" y="227.62" width="6.15" height="5.48" fill="#e5ff1a"/>
<rect x="193.88" y="227.62" width="6.15" height="5.48" fill="#ffd500"/>
<rect x="199.62" y="227.62" width="6.15" height="5.48" fill="#ffd500"/>
<rect x="205.37" y="227.62" width="6.15" height="5.48" fill="#e5ff1a"/>
<rect x="211.12" y="227.62" width="6.15" height="5.48" fill="#b3ff4c"/>
<rect x="216.87" y="227.62" width="6.15" height="5.48" fill="#80ff80"/>
<rect x="222.62" y="227.62" width="6.15" height="5.48" fill="#80ff80"/>
<rect x="228.36" y="227.62" width="6.15" height="5.48" fill="#b3ff4c"/>
<rect x="234.11" y="227.62" width="6.15" height="5.48" fill="#ffd500"/>
<rect x="239.86" y="227.62" width="6.15" height="5.48" fill="#ff4c00"/>
<rect x="245.61" y="227.62" width="6.15" height="5.48" fill="#ff9100"/>
<rect x="251.35" y="227.62" width="6.15" height="5.48" fill="#e5ff1a"/>
<rect x="257.10" y="227.62" width="6.15" height="5.48" fill="#e5ff1a"/>
<rect x="21.45" y="232.70" width="6.15" height="5.48" fill="#004dff"/>
<rect x="27.20" y="232.70" width="6.15" height="5.48" fill="#004dff"/>
<rect x="32.95" y="232.70" width="6.15" height="5.48" fill="#0008ff"/>
<rect x="38.70" y="232.70" width="6.15" height="5.48" fill="#0008ff"/>
<rect x="44.44" y="232.70" width="6.15" height="5.48" fill="#0008ff"/>
<rect x="50.19" y="232.70" width="6.15" height="5.48" fill="#0008ff"/>
<rect x="55.94" y="232.70" width="6.15" height="5.48" fill="#0008ff"/>
<rect x="61.69" y="232.70" width="6.15" height="5.48" fill="#0008ff"/>
<rect x="67.43" y="232.70" width="6.15" height="5.48" fill="#0008ff"/>
<rect x="73.18" y="232.70" width="6.15" height="5.48" fill="#00d4ff"/>
<rect x="78.93" y="232.70" width="6.15" height="5.48" fill="#e5ff1a"/>
<rect x="84.68" y="232.70" width="6.15" height="5.48" fill="#e5ff1a"/>
<rect x="90.42" y="232.70" width="6.15" height="5.48" fill="#e5ff1a"/>
<rect x="96.17" y="232.70" width="6.15" height="5.48" fill="#ffd500"/>
<rect x="101.92" y="232.70" width="6.15" height="5.48" fill="#ff9100"/>
<rect x="107.67" y="232.70" width="6.15" height="5.48" fill="#ff0800"/>
<rect x="113.41" y="232.70" width="6.15" height="5.48" fill="#c30000"/>
<rect x="119.16" y="232.70" width="6.15" height="5.48" fill="#ff0800"/>
<rect x="124.91" y="232.70" width="6.15" height="5.48" fill="#ff4c00"/>
<rect x="130.66" y="232.70" width="6.15" height="5.48" fill="#ff9100"/>
<rect x="136.40" y="232.70" width="6.15" height="5.48" fill="#b3ff4c"/>
<rect x="142.15" y="232.70" width="6.15" height="5.48" fill="#0090ff"/>
<rect x="147.90" y="232.70" width="6.15" height="5.48" fill="#0008ff"/>
<rect x="153.65" y="232.70" width="6.15" height="5.48" fill="#0008ff"/>
<rect x="159.39" y="232.70" width="6.15" height="5.48" fill="#0008ff"/>
<rect x="165.14" y="232.70" width="6.15" height="5.48" fill="#0008ff"/>
<rect x="170.89" y="232.70" width="6.15" height="5.48" fill="#0008ff"/>
<rect x="176.63" y="232.70" width="6.15" height="5.48" fill="#00d4ff"/>
<rect x="182.38" y="232.70" width="6.15" height="5.48" fill="#b3ff4c"/>
<rect x="188.13" y="232.70" width="6.15" height="5.48" fill="#e5ff1a"/>
<rect x="193.88" y="232.70" width="6.15" height="5.48" fill="#ffd500"/>
<rect x="199.62" y="232.70" width="6.15" height="5.48" fill="#ffd500"/>
<rect x="205.37" y="232.70" width="6.15" height="5.48" fill="#e5ff1a"/>
<rect x="211.12" y="232.70" width="6.15" height="5.48" fill="#b3ff4c"/>
<rect x="216.87" y="232.70" width="6.15" height="5.48" fill="#80ff80"/>
<rect x="222.62" y="232.70" width="6.15" height="5.48" fill="#80ff80"/>
<rect x="228.36" y="232.70" width="6.15" height="5.48" fill="#b3ff4c"/>
<rect x="234.11" y="232.70" width="6.15" height="5.48" fill="#ffd500"/>
<rect x="239.86" y="232.70" width="6.15" height="5.48" fill="#ff4c00"/>
<rect x="245.61" y="232.70" width="6.15" height="5.48" fill="#ff9100"/>
<rect x="251.35" y="232.70" width="6.15" height="5.48" fill="#e5ff1a"/>
<rect x="257.10" y="232.70" width="6.15" height="5.48" fill="#e5ff1a"/>
</g></g>
<path d="M53.06 232.70v-2.2M53.06 29.60v2.2M27.20 209.85h2.2M257.10 209.85h-2.2M81.80 232.70v-2.2M81.80 29.60v2.2M27.20 184.46h2.2M257.10 184.46h-2.2M110.54 232.70v-2.2M110.54 29.60v2.2M27.20 159.08h2.2M257.10 159.08h-2.2M139.28 232.70v-2.2M139.28 29.60v2.2M27.20 133.69h2.2M257.10 133.69h-2.2M168.01 232.70v-2.2M168.01 29.60v2.2M27.20 108.30h2.2M257.10 108.30h-2.2M196.75 232.70v-2.2M196.75 29.60v2.2M27.20 82.91h2.2M257.10 82.91h-2.2M225.49 232.70v-2.2M225.49 29.60v2.2M27.20 57.53h2.2M257.10 57.53h-2.2M254.23 232.70v-2.2M254.23 29.60v2.2M27.20 32.14h2.2M257.10 32.14h-2.2" stroke="#262626" stroke-width="0.6" fill="none"/>
<g font-family="Liberation Sans" font-size="8" fill="#262626">
<text x="53.06" y="244.8" text-anchor="middle">5</text>
<text x="23.6" y="212.75" text-anchor="end">5</text>
<text x="81.80" y="244.8" text-anchor="middle">10</text>
<text x="23.6" y="187.36" text-anchor="end">10</text>
<text x="110.54" y="244.8" text-anchor="middle">15</text>
<text x="23.6" y="161.98" text-anchor="end">15</text>
<text x="139.28" y="244.8" text-anchor="middle">20</text>
<text x="23.6" y="136.59" text-anchor="end">20</text>
<text x="168.01" y="244.8" text-anchor="middle">25</text>
<text x="23.6" y="111.20" text-anchor="end">25</text>
<text x="196.75" y="244.8" text-anchor="middle">30</text>
<text x="23.6" y="85.81" text-anchor="end">30</text>
<text x="225.49" y="244.8" text-anchor="middle">35</text>
<text x="23.6" y="60.43" text-anchor="end">35</text>
<text x="254.23" y="244.8" text-anchor="middle">40</text>
<text x="23.6" y="35.04" text-anchor="end">40</text>
</g>
<rect x="265.30" y="29.60" width="11.70" height="203.10" fill="url(#cb)" stroke="#262626" stroke-width="0.5"/>
<g font-family="Liberation Sans" font-size="10.8" fill="#262626">
<text x="281.5" y="46.20">0.6</text>
<text x="281.5" y="73.65">0.4</text>
<text x="281.5" y="101.10">0.2</text>
<text x="281.5" y="128.55">0</text>
<text x="281.5" y="156.00">-0.2</text>
<text x="281.5" y="183.45">-0.4</text>
<text x="281.5" y="210.90">-0.6</text>
</g>
<text x="206.4" y="20.8" font-family="Liberation Serif" font-size="14.65" fill="#1a1a1a" stroke="#1a1a1a" stroke-width="0.25">Earthwork volume/m</text>
<text x="133.2" y="258" font-family="Liberation Serif" font-size="12" fill="#1a1a1a" stroke="#1a1a1a" stroke-width="0.3">x/m</text>
<text transform="translate(9.9,140.6) rotate(-90)" font-family="Liberation Serif" font-size="12" fill="#1a1a1a" stroke="#1a1a1a" stroke-width="0.3">y/m</text>
<text x="133.5" y="281.7" font-family="Liberation Serif" font-size="18" font-weight="bold" fill="#000">(a)</text>
<line x1="238.50" y1="109.00" x2="238.50" y2="129.50" stroke="#5e2d8c" stroke-width="1.50"/><path d="M238.50 134.00L235.90 128.50L241.10 128.50Z" fill="#5e2d8c"/>
<line x1="233.20" y1="151.20" x2="233.20" y2="157.50" stroke="#5e2d8c" stroke-width="1.50"/><path d="M233.20 162.00L230.60 156.50L235.80 156.50Z" fill="#5e2d8c"/>
<line x1="226.50" y1="165.60" x2="176.07" y2="149.01" stroke="#5e2d8c" stroke-width="1.50"/><path d="M171.80 147.60L177.84 146.85L176.21 151.79Z" fill="#5e2d8c"/>
<line x1="160.20" y1="137.00" x2="155.65" y2="125.49" stroke="#5e2d8c" stroke-width="1.50"/><path d="M154.00 121.30L158.44 125.46L153.60 127.37Z" fill="#5e2d8c"/>
<line x1="147.30" y1="115.40" x2="60.44" y2="129.38" stroke="#5e2d8c" stroke-width="1.50"/><path d="M56.00 130.10L61.02 126.66L61.84 131.79Z" fill="#5e2d8c"/>
<line x1="230.20" y1="109.00" x2="230.20" y2="130.00" stroke="#000" stroke-width="1.80"/><path d="M230.20 134.50L227.60 129.00L232.80 129.00Z" fill="#000"/>
<line x1="222.80" y1="144.00" x2="169.21" y2="174.38" stroke="#000" stroke-width="1.80"/><path d="M165.30 176.60L168.80 171.63L171.37 176.15Z" fill="#000"/>
<line x1="150.40" y1="175.20" x2="60.06" y2="132.04" stroke="#000" stroke-width="1.80"/><path d="M56.00 130.10L62.08 130.12L59.84 134.82Z" fill="#000"/>
<line x1="176.2" y1="39.1" x2="201.8" y2="39.1" stroke="#5e2d8c" stroke-width="1.3"/>
<line x1="176.2" y1="51.8" x2="201.8" y2="51.8" stroke="#000" stroke-width="1.3"/>
<g font-family="Liberation Serif" font-size="7.6" font-weight="bold" fill="#000">
<text x="205.5" y="41.6">IACO path</text><text x="205.5" y="54.3">ACO path</text></g>
<g font-family="Liberation Sans" font-size="13.6" fill="#fff" stroke="#fff" stroke-width="0.2" text-anchor="middle">
<text x="37.5" y="49.60">8</text>
<text x="89.8" y="51.10">16</text>
<text x="150.6" y="49.00">9</text>
<text x="33.6" y="82.00">3</text>
<text x="112.0" y="99.50">17</text>
<text x="152.8" y="119.30">2</text>
<text x="233.2" y="104.70">1</text>
<text x="44.8" y="135.00">10</text>
<text x="233.2" y="149.00">11</text>
<text x="161.1" y="153.40">15</text>
<text x="233.2" y="172.40">7</text>
<text x="35.0" y="184.90">5</text>
<text x="158.1" y="183.40">4</text>
<text x="122.2" y="202.50">14</text>
<text x="45.6" y="228.50">12</text>
<text x="118.5" y="228.60">6</text>
<text x="163.4" y="228.60">13</text>
</g>
<path d="M438.66 5.60V239.00M497.72 5.60V239.00M556.78 5.60V239.00M615.84 5.60V239.00M379.60 200.10H674.90M379.60 161.20H674.90M379.60 122.30H674.90M379.60 83.40H674.90M379.60 44.50H674.90" stroke="#e3e3e3" stroke-width="0.7" fill="none"/>
<path d="M438.66 239.00v-2.5M438.66 5.60v2.5M497.72 239.00v-2.5M497.72 5.60v2.5M556.78 239.00v-2.5M556.78 5.60v2.5M615.84 239.00v-2.5M615.84 5.60v2.5M379.60 200.10h2.5M674.90 200.10h-2.5M379.60 161.20h2.5M674.90 161.20h-2.5M379.60 122.30h2.5M674.90 122.30h-2.5M379.60 83.40h2.5M674.90 83.40h-2.5M379.60 44.50h2.5M674.90 44.50h-2.5" stroke="#777" stroke-width="0.7" fill="none"/>
<rect x="379.60" y="5.60" width="295.30" height="233.40" fill="none" stroke="#8a8a8a" stroke-width="0.8"/>
<g font-family="Liberation Sans" font-size="8.8" fill="#262626">
<text x="379.60" y="251.8" text-anchor="middle">0</text>
<text x="438.66" y="251.8" text-anchor="middle">20</text>
<text x="497.72" y="251.8" text-anchor="middle">40</text>
<text x="556.78" y="251.8" text-anchor="middle">60</text>
<text x="615.84" y="251.8" text-anchor="middle">80</text>
<text x="674.90" y="251.8" text-anchor="middle">100</text>
<text x="375.2" y="242.60" text-anchor="end">0</text>
<text x="375.2" y="203.70" text-anchor="end">5</text>
<text x="375.2" y="164.80" text-anchor="end">10</text>
<text x="375.2" y="125.90" text-anchor="end">15</text>
<text x="375.2" y="87.00" text-anchor="end">20</text>
<text x="375.2" y="48.10" text-anchor="end">25</text>
<text x="375.2" y="9.20" text-anchor="end">30</text>
</g>
<text x="496.0" y="267.8" font-family="Liberation Serif" font-size="14.8" fill="#1a1a1a" stroke="#1a1a1a" stroke-width="0.3">Number of iterations</text>
<text transform="translate(362.9,252.5) rotate(-90)" font-family="Liberation Serif" font-size="14.9" fill="#1a1a1a" stroke="#1a1a1a" stroke-width="0.4">Value of the optimized objective function</text>
<text x="544.6" y="288.2" font-family="Liberation Serif" font-size="18" font-weight="bold" fill="#000">(b)</text>
<polyline points="382.55,166.65 385.51,190.22 388.46,173.96 391.41,175.36 394.37,184.93 397.32,184.93 400.27,184.93 403.22,188.27 406.18,188.43 409.13,206.09 412.08,205.31 415.04,205.31 417.99,205.31 420.94,205.31 423.89,212.78 426.85,210.99 429.80,209.44 432.75,211.77 435.71,214.88 438.66,214.88 441.61,214.88 444.57,214.88 447.52,214.88 450.47,214.88 453.43,214.88 456.38,214.88 459.33,214.88 462.28,214.88 465.24,214.88 468.19,214.88 471.14,214.88 474.10,214.88 477.05,214.88 480.00,214.88 482.95,214.88 485.91,214.88 488.86,214.88 491.81,214.88 494.77,214.88 497.72,214.88 500.67,214.88 503.63,214.88 506.58,214.88 509.53,214.88 512.49,214.88 515.44,214.88 518.39,214.88 521.34,214.88 524.30,214.88 527.25,214.88 530.20,214.88 533.16,214.88 536.11,214.88 539.06,214.88 542.01,214.88 544.97,214.88 547.92,214.88 550.87,214.88 553.83,214.88 556.78,214.88 559.73,214.88 562.69,214.88 565.64,214.88 568.59,214.88 571.54,214.88 574.50,214.88 577.45,214.88 580.40,214.88 583.36,214.88 586.31,214.88 589.26,214.88 592.22,214.88 595.17,214.88 598.12,214.88 601.08,214.88 604.03,214.88 606.98,214.88 609.93,214.88 612.89,214.88 615.84,214.88 618.79,214.88 621.75,214.88 624.70,214.88 627.65,214.88 630.61,214.88 633.56,214.88 636.51,214.88 639.46,214.88 642.42,214.88 645.37,214.88 648.32,214.88 651.28,214.88 654.23,214.88 657.18,214.88 660.13,214.88 663.09,214.88 666.04,214.88 668.99,214.88 671.95,214.88 674.90,214.88" fill="none" stroke="#dd0000" stroke-width="0.9" stroke-dasharray="2.5,3"/>
<g fill="#dd0000">
<circle cx="382.55" cy="166.65" r="1.6"/>
<circle cx="385.51" cy="190.22" r="1.6"/>
<circle cx="388.46" cy="173.96" r="1.6"/>
<circle cx="391.41" cy="175.36" r="1.6"/>
<circle cx="394.37" cy="184.93" r="1.6"/>
<circle cx="397.32" cy="184.93" r="1.6"/>
<circle cx="400.27" cy="184.93" r="1.6"/>
<circle cx="403.22" cy="188.27" r="1.6"/>
<circle cx="406.18" cy="188.43" r="1.6"/>
<circle cx="409.13" cy="206.09" r="1.6"/>
<circle cx="412.08" cy="205.31" r="1.6"/>
<circle cx="415.04" cy="205.31" r="1.6"/>
<circle cx="417.99" cy="205.31" r="1.6"/>
<circle cx="420.94" cy="205.31" r="1.6"/>
<circle cx="423.89" cy="212.78" r="1.6"/>
<circle cx="426.85" cy="210.99" r="1.6"/>
<circle cx="429.80" cy="209.44" r="1.6"/>
<circle cx="432.75" cy="211.77" r="1.6"/>
<circle cx="435.71" cy="214.88" r="1.6"/>
<circle cx="438.66" cy="214.88" r="1.6"/>
<circle cx="441.61" cy="214.88" r="1.6"/>
<circle cx="444.57" cy="214.88" r="1.6"/>
<circle cx="447.52" cy="214.88" r="1.6"/>
<circle cx="450.47" cy="214.88" r="1.6"/>
<circle cx="453.43" cy="214.88" r="1.6"/>
<circle cx="456.38" cy="214.88" r="1.6"/>
<circle cx="459.33" cy="214.88" r="1.6"/>
<circle cx="462.28" cy="214.88" r="1.6"/>
<circle cx="465.24" cy="214.88" r="1.6"/>
<circle cx="468.19" cy="214.88" r="1.6"/>
<circle cx="471.14" cy="214.88" r="1.6"/>
<circle cx="474.10" cy="214.88" r="1.6"/>
<circle cx="477.05" cy="214.88" r="1.6"/>
<circle cx="480.00" cy="214.88" r="1.6"/>
<circle cx="482.95" cy="214.88" r="1.6"/>
<circle cx="485.91" cy="214.88" r="1.6"/>
<circle cx="488.86" cy="214.88" r="1.6"/>
<circle cx="491.81" cy="214.88" r="1.6"/>
<circle cx="494.77" cy="214.88" r="1.6"/>
<circle cx="497.72" cy="214.88" r="1.6"/>
<circle cx="500.67" cy="214.88" r="1.6"/>
<circle cx="503.63" cy="214.88" r="1.6"/>
<circle cx="506.58" cy="214.88" r="1.6"/>
<circle cx="509.53" cy="214.88" r="1.6"/>
<circle cx="512.49" cy="214.88" r="1.6"/>
<circle cx="515.44" cy="214.88" r="1.6"/>
<circle cx="518.39" cy="214.88" r="1.6"/>
<circle cx="521.34" cy="214.88" r="1.6"/>
<circle cx="524.30" cy="214.88" r="1.6"/>
<circle cx="527.25" cy="214.88" r="1.6"/>
<circle cx="530.20" cy="214.88" r="1.6"/>
<circle cx="533.16" cy="214.88" r="1.6"/>
<circle cx="536.11" cy="214.88" r="1.6"/>
<circle cx="539.06" cy="214.88" r="1.6"/>
<circle cx="542.01" cy="214.88" r="1.6"/>
<circle cx="544.97" cy="214.88" r="1.6"/>
<circle cx="547.92" cy="214.88" r="1.6"/>
<circle cx="550.87" cy="214.88" r="1.6"/>
<circle cx="553.83" cy="214.88" r="1.6"/>
<circle cx="556.78" cy="214.88" r="1.6"/>
<circle cx="559.73" cy="214.88" r="1.6"/>
<circle cx="562.69" cy="214.88" r="1.6"/>
<circle cx="565.64" cy="214.88" r="1.6"/>
<circle cx="568.59" cy="214.88" r="1.6"/>
<circle cx="571.54" cy="214.88" r="1.6"/>
<circle cx="574.50" cy="214.88" r="1.6"/>
<circle cx="577.45" cy="214.88" r="1.6"/>
<circle cx="580.40" cy="214.88" r="1.6"/>
<circle cx="583.36" cy="214.88" r="1.6"/>
<circle cx="586.31" cy="214.88" r="1.6"/>
<circle cx="589.26" cy="214.88" r="1.6"/>
<circle cx="592.22" cy="214.88" r="1.6"/>
<circle cx="595.17" cy="214.88" r="1.6"/>
<circle cx="598.12" cy="214.88" r="1.6"/>
<circle cx="601.08" cy="214.88" r="1.6"/>
<circle cx="604.03" cy="214.88" r="1.6"/>
<circle cx="606.98" cy="214.88" r="1.6"/>
<circle cx="609.93" cy="214.88" r="1.6"/>
<circle cx="612.89" cy="214.88" r="1.6"/>
<circle cx="615.84" cy="214.88" r="1.6"/>
<circle cx="618.79" cy="214.88" r="1.6"/>
<circle cx="621.75" cy="214.88" r="1.6"/>
<circle cx="624.70" cy="214.88" r="1.6"/>
<circle cx="627.65" cy="214.88" r="1.6"/>
<circle cx="630.61" cy="214.88" r="1.6"/>
<circle cx="633.56" cy="214.88" r="1.6"/>
<circle cx="636.51" cy="214.88" r="1.6"/>
<circle cx="639.46" cy="214.88" r="1.6"/>
<circle cx="642.42" cy="214.88" r="1.6"/>
<circle cx="645.37" cy="214.88" r="1.6"/>
<circle cx="648.32" cy="214.88" r="1.6"/>
<circle cx="651.28" cy="214.88" r="1.6"/>
<circle cx="654.23" cy="214.88" r="1.6"/>
<circle cx="657.18" cy="214.88" r="1.6"/>
<circle cx="660.13" cy="214.88" r="1.6"/>
<circle cx="663.09" cy="214.88" r="1.6"/>
<circle cx="666.04" cy="214.88" r="1.6"/>
<circle cx="668.99" cy="214.88" r="1.6"/>
<circle cx="671.95" cy="214.88" r="1.6"/>
<circle cx="674.90" cy="214.88" r="1.6"/>
</g>
<polyline points="382.55,57.73 385.51,57.73 388.46,57.73 391.41,112.19 394.37,128.52 397.32,81.38 400.27,81.38 403.22,160.03 406.18,135.53 409.13,81.38 412.08,96.08 415.04,197.14 417.99,179.87 420.94,191.08 423.89,208.04 426.85,169.21 429.80,182.83 432.75,197.38 435.71,205.78 438.66,205.78 441.61,205.78 444.57,204.30 447.52,204.53 450.47,203.76 453.43,190.76 456.38,189.75 459.33,172.87 462.28,197.92 465.24,198.93 468.19,198.93 471.14,198.93 474.10,198.93 477.05,198.93 480.00,198.93 482.95,198.93 485.91,198.93 488.86,198.93 491.81,198.93 494.77,198.93 497.72,198.93 500.67,198.93 503.63,198.93 506.58,198.93 509.53,198.93 512.49,198.93 515.44,198.93 518.39,198.93 521.34,198.93 524.30,198.93 527.25,198.93 530.20,198.93 533.16,198.93 536.11,198.93 539.06,198.93 542.01,198.93 544.97,198.93 547.92,198.93 550.87,198.93 553.83,198.93 556.78,198.93 559.73,198.93 562.69,198.93 565.64,198.93 568.59,198.93 571.54,198.93 574.50,198.93 577.45,198.93 580.40,198.93 583.36,198.93 586.31,198.93 589.26,198.93 592.22,198.93 595.17,198.93 598.12,198.93 601.08,198.93 604.03,198.93 606.98,198.93 609.93,198.93 612.89,198.93 615.84,198.93 618.79,198.93 621.75,198.93 624.70,198.93 627.65,198.93 630.61,198.93 633.56,198.93 636.51,198.93 639.46,198.93 642.42,198.93 645.37,198.93 648.32,198.93 651.28,198.93 654.23,198.93 657.18,198.93 660.13,198.93 663.09,198.93 666.04,198.93 668.99,198.93 671.95,198.93 674.90,198.93" fill="none" stroke="#1f2fd2" stroke-width="1.1"/>
<g fill="none" stroke="#1f2fd2" stroke-width="1.0">
<circle cx="382.55" cy="57.73" r="1.6"/>
<circle cx="385.51" cy="57.73" r="1.6"/>
<circle cx="388.46" cy="57.73" r="1.6"/>
<circle cx="391.41" cy="112.19" r="1.6"/>
<circle cx="394.37" cy="128.52" r="1.6"/>
<circle cx="397.32" cy="81.38" r="1.6"/>
<circle cx="400.27" cy="81.38" r="1.6"/>
<circle cx="403.22" cy="160.03" r="1.6"/>
<circle cx="406.18" cy="135.53" r="1.6"/>
<circle cx="409.13" cy="81.38" r="1.6"/>
<circle cx="412.08" cy="96.08" r="1.6"/>
<circle cx="415.04" cy="197.14" r="1.6"/>
<circle cx="417.99" cy="179.87" r="1.6"/>
<circle cx="420.94" cy="191.08" r="1.6"/>
<circle cx="423.89" cy="208.04" r="1.6"/>
<circle cx="426.85" cy="169.21" r="1.6"/>
<circle cx="429.80" cy="182.83" r="1.6"/>
<circle cx="432.75" cy="197.38" r="1.6"/>
<circle cx="435.71" cy="205.78" r="1.6"/>
<circle cx="438.66" cy="205.78" r="1.6"/>
<circle cx="441.61" cy="205.78" r="1.6"/>
<circle cx="444.57" cy="204.30" r="1.6"/>
<circle cx="447.52" cy="204.53" r="1.6"/>
<circle cx="450.47" cy="203.76" r="1.6"/>
<circle cx="453.43" cy="190.76" r="1.6"/>
<circle cx="456.38" cy="189.75" r="1.6"/>
<circle cx="459.33" cy="172.87" r="1.6"/>
<circle cx="462.28" cy="197.92" r="1.6"/>
<circle cx="465.24" cy="198.93" r="1.6"/>
<circle cx="468.19" cy="198.93" r="1.6"/>
<circle cx="471.14" cy="198.93" r="1.6"/>
<circle cx="474.10" cy="198.93" r="1.6"/>
<circle cx="477.05" cy="198.93" r="1.6"/>
<circle cx="480.00" cy="198.93" r="1.6"/>
<circle cx="482.95" cy="198.93" r="1.6"/>
<circle cx="485.91" cy="198.93" r="1.6"/>
<circle cx="488.86" cy="198.93" r="1.6"/>
<circle cx="491.81" cy="198.93" r="1.6"/>
<circle cx="494.77" cy="198.93" r="1.6"/>
<circle cx="497.72" cy="198.93" r="1.6"/>
<circle cx="500.67" cy="198.93" r="1.6"/>
<circle cx="503.63" cy="198.93" r="1.6"/>
<circle cx="506.58" cy="198.93" r="1.6"/>
<circle cx="509.53" cy="198.93" r="1.6"/>
<circle cx="512.49" cy="198.93" r="1.6"/>
<circle cx="515.44" cy="198.93" r="1.6"/>
<circle cx="518.39" cy="198.93" r="1.6"/>
<circle cx="521.34" cy="198.93" r="1.6"/>
<circle cx="524.30" cy="198.93" r="1.6"/>
<circle cx="527.25" cy="198.93" r="1.6"/>
<circle cx="530.20" cy="198.93" r="1.6"/>
<circle cx="533.16" cy="198.93" r="1.6"/>
<circle cx="536.11" cy="198.93" r="1.6"/>
<circle cx="539.06" cy="198.93" r="1.6"/>
<circle cx="542.01" cy="198.93" r="1.6"/>
<circle cx="544.97" cy="198.93" r="1.6"/>
<circle cx="547.92" cy="198.93" r="1.6"/>
<circle cx="550.87" cy="198.93" r="1.6"/>
<circle cx="553.83" cy="198.93" r="1.6"/>
<circle cx="556.78" cy="198.93" r="1.6"/>
<circle cx="559.73" cy="198.93" r="1.6"/>
<circle cx="562.69" cy="198.93" r="1.6"/>
<circle cx="565.64" cy="198.93" r="1.6"/>
<circle cx="568.59" cy="198.93" r="1.6"/>
<circle cx="571.54" cy="198.93" r="1.6"/>
<circle cx="574.50" cy="198.93" r="1.6"/>
<circle cx="577.45" cy="198.93" r="1.6"/>
<circle cx="580.40" cy="198.93" r="1.6"/>
<circle cx="583.36" cy="198.93" r="1.6"/>
<circle cx="586.31" cy="198.93" r="1.6"/>
<circle cx="589.26" cy="198.93" r="1.6"/>
<circle cx="592.22" cy="198.93" r="1.6"/>
<circle cx="595.17" cy="198.93" r="1.6"/>
<circle cx="598.12" cy="198.93" r="1.6"/>
<circle cx="601.08" cy="198.93" r="1.6"/>
<circle cx="604.03" cy="198.93" r="1.6"/>
<circle cx="606.98" cy="198.93" r="1.6"/>
<circle cx="609.93" cy="198.93" r="1.6"/>
<circle cx="612.89" cy="198.93" r="1.6"/>
<circle cx="615.84" cy="198.93" r="1.6"/>
<circle cx="618.79" cy="198.93" r="1.6"/>
<circle cx="621.75" cy="198.93" r="1.6"/>
<circle cx="624.70" cy="198.93" r="1.6"/>
<circle cx="627.65" cy="198.93" r="1.6"/>
<circle cx="630.61" cy="198.93" r="1.6"/>
<circle cx="633.56" cy="198.93" r="1.6"/>
<circle cx="636.51" cy="198.93" r="1.6"/>
<circle cx="639.46" cy="198.93" r="1.6"/>
<circle cx="642.42" cy="198.93" r="1.6"/>
<circle cx="645.37" cy="198.93" r="1.6"/>
<circle cx="648.32" cy="198.93" r="1.6"/>
<circle cx="651.28" cy="198.93" r="1.6"/>
<circle cx="654.23" cy="198.93" r="1.6"/>
<circle cx="657.18" cy="198.93" r="1.6"/>
<circle cx="660.13" cy="198.93" r="1.6"/>
<circle cx="663.09" cy="198.93" r="1.6"/>
<circle cx="666.04" cy="198.93" r="1.6"/>
<circle cx="668.99" cy="198.93" r="1.6"/>
<circle cx="671.95" cy="198.93" r="1.6"/>
<circle cx="674.90" cy="198.93" r="1.6"/>
</g>
<rect x="601.5" y="12.7" width="66.1" height="32.5" fill="#fff" stroke="#8a8a8a" stroke-width="0.7"/>
<line x1="604.6" y1="21.4" x2="629.9" y2="21.4" stroke="#dd0000" stroke-width="0.9" stroke-dasharray="2.3,1.6"/>
<circle cx="618" cy="21.4" r="1.6" fill="#dd0000"/>
<line x1="604.6" y1="36.8" x2="629.9" y2="36.8" stroke="#1f2fd2" stroke-width="1"/>
<circle cx="618" cy="36.8" r="1.7" fill="none" stroke="#1f2fd2" stroke-width="1"/>
<g font-family="Liberation Serif" font-size="12" fill="#1a1a1a" stroke="#1a1a1a" stroke-width="0.25"><text x="634.5" y="26.5">IACO</text><text x="634.8" y="41.3">ACO</text></g>
</svg></body></html>
